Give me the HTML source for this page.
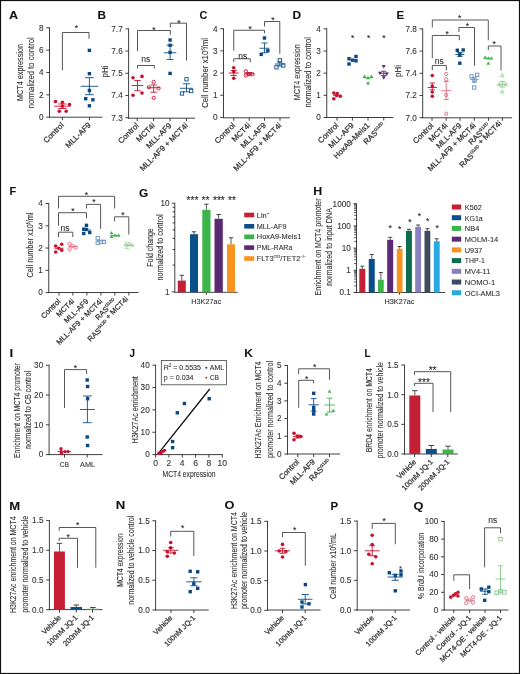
<!DOCTYPE html>
<html><head><meta charset="utf-8"><style>
html,body{margin:0;padding:0;background:#fff;width:520px;height:674px;overflow:hidden}
svg{display:block;will-change:transform}
text{font-family:"Liberation Sans",sans-serif;stroke:#333;stroke-width:0.1px}
.xl{stroke-width:0.25px}
</style></head><body>
<svg width="520" height="674" viewBox="0 0 520 674">
<rect width="520" height="674" fill="#fff"/>
<text x="9.05" y="18.8" font-size="11" fill="#111" font-weight="bold" textLength="9.11" lengthAdjust="spacingAndGlyphs">A</text>
<line x1="49.5" y1="27.35" x2="49.5" y2="117.65" stroke="#2a2a2a" stroke-width="0.9"/>
<line x1="46.3" y1="27.8" x2="49.5" y2="27.8" stroke="#2a2a2a" stroke-width="0.9"/>
<text x="43.6" y="30.65" font-size="8.2" fill="#333333" text-anchor="end">8</text>
<line x1="46.3" y1="50.15" x2="49.5" y2="50.15" stroke="#2a2a2a" stroke-width="0.9"/>
<text x="43.6" y="53" font-size="8.2" fill="#333333" text-anchor="end">6</text>
<line x1="46.3" y1="72.5" x2="49.5" y2="72.5" stroke="#2a2a2a" stroke-width="0.9"/>
<text x="43.6" y="75.35" font-size="8.2" fill="#333333" text-anchor="end">4</text>
<line x1="46.3" y1="94.85" x2="49.5" y2="94.85" stroke="#2a2a2a" stroke-width="0.9"/>
<text x="43.6" y="97.7" font-size="8.2" fill="#333333" text-anchor="end">2</text>
<line x1="46.3" y1="117.2" x2="49.5" y2="117.2" stroke="#2a2a2a" stroke-width="0.9"/>
<text x="43.6" y="120.05" font-size="8.2" fill="#333333" text-anchor="end">0</text>
<line x1="49.05" y1="117.2" x2="102.5" y2="117.2" stroke="#2a2a2a" stroke-width="0.9"/>
<line x1="62.4" y1="117.2" x2="62.4" y2="120.2" stroke="#2a2a2a" stroke-width="0.9"/>
<line x1="89.4" y1="117.2" x2="89.4" y2="120.2" stroke="#2a2a2a" stroke-width="0.9"/>
<text transform="translate(23 72.5) rotate(-90)" font-size="9.4" fill="#333333" text-anchor="middle" textLength="57" lengthAdjust="spacingAndGlyphs">MCT4 expression</text>
<text transform="translate(34 72.8) rotate(-90)" font-size="9.4" fill="#333333" text-anchor="middle" textLength="71" lengthAdjust="spacingAndGlyphs">normalized to control</text>
<circle cx="55.5" cy="101.5" r="1.8" fill="#c8102e"/>
<circle cx="62.4" cy="102.2" r="1.8" fill="#c8102e"/>
<circle cx="69.5" cy="104.5" r="1.8" fill="#c8102e"/>
<circle cx="62.4" cy="106.2" r="1.8" fill="#c8102e"/>
<circle cx="59.3" cy="111.2" r="1.8" fill="#c8102e"/>
<circle cx="66.2" cy="111.2" r="1.8" fill="#c8102e"/>
<line x1="54.2" y1="106.2" x2="70.6" y2="106.2" stroke="#c8102e" stroke-width="0.9"/>
<line x1="62.4" y1="104" x2="62.4" y2="108.5" stroke="#c8102e" stroke-width="0.9"/>
<line x1="58.3" y1="104" x2="66.5" y2="104" stroke="#c8102e" stroke-width="0.9"/>
<line x1="58.3" y1="108.5" x2="66.5" y2="108.5" stroke="#c8102e" stroke-width="0.9"/>
<rect x="87.7" y="48.7" width="3.4" height="3.4" fill="#0b4684"/>
<rect x="87.7" y="72" width="3.4" height="3.4" fill="#0b4684"/>
<rect x="87.7" y="88.8" width="3.4" height="3.4" fill="#0b4684"/>
<rect x="84" y="97" width="3.4" height="3.4" fill="#0b4684"/>
<rect x="91.2" y="98.1" width="3.4" height="3.4" fill="#0b4684"/>
<rect x="87.7" y="104.1" width="3.4" height="3.4" fill="#0b4684"/>
<line x1="80.6" y1="86.3" x2="98.2" y2="86.3" stroke="#0b4f8a" stroke-width="0.9"/>
<line x1="89.4" y1="77.7" x2="89.4" y2="94.7" stroke="#0b4f8a" stroke-width="0.9"/>
<line x1="85" y1="77.7" x2="93.8" y2="77.7" stroke="#0b4f8a" stroke-width="0.9"/>
<line x1="85" y1="94.7" x2="93.8" y2="94.7" stroke="#0b4f8a" stroke-width="0.9"/>
<path d="M62.4 70.2V32.5H89V38.8" stroke="#444" stroke-width="0.9" fill="none"/>
<text x="76.4" y="31.44" font-size="8.6" fill="#222" text-anchor="middle">*</text>
<text transform="translate(64.4 125.6) rotate(-45)" font-size="7.85" fill="#333333" text-anchor="end" class="xl">Control</text>
<text transform="translate(91.4 125.6) rotate(-45)" font-size="7.85" fill="#333333" text-anchor="end" class="xl">MLL-AF9</text>
<text x="97.48" y="19" font-size="11" fill="#111" font-weight="bold" textLength="8.5" lengthAdjust="spacingAndGlyphs">B</text>
<line x1="128.6" y1="28.45" x2="128.6" y2="118.65" stroke="#2a2a2a" stroke-width="0.9"/>
<line x1="125.4" y1="28.9" x2="128.6" y2="28.9" stroke="#2a2a2a" stroke-width="0.9"/>
<text x="122.7" y="31.75" font-size="8.2" fill="#333333" text-anchor="end">7.7</text>
<line x1="125.4" y1="51.1" x2="128.6" y2="51.1" stroke="#2a2a2a" stroke-width="0.9"/>
<text x="122.7" y="53.95" font-size="8.2" fill="#333333" text-anchor="end">7.6</text>
<line x1="125.4" y1="73.3" x2="128.6" y2="73.3" stroke="#2a2a2a" stroke-width="0.9"/>
<text x="122.7" y="76.15" font-size="8.2" fill="#333333" text-anchor="end">7.5</text>
<line x1="125.4" y1="95.5" x2="128.6" y2="95.5" stroke="#2a2a2a" stroke-width="0.9"/>
<text x="122.7" y="98.35" font-size="8.2" fill="#333333" text-anchor="end">7.4</text>
<line x1="125.4" y1="117.7" x2="128.6" y2="117.7" stroke="#2a2a2a" stroke-width="0.9"/>
<text x="122.7" y="120.55" font-size="8.2" fill="#333333" text-anchor="end">7.3</text>
<line x1="128.15" y1="118.2" x2="195" y2="118.2" stroke="#2a2a2a" stroke-width="0.9"/>
<line x1="137.2" y1="118.2" x2="137.2" y2="121.2" stroke="#2a2a2a" stroke-width="0.9"/>
<line x1="153.6" y1="118.2" x2="153.6" y2="121.2" stroke="#2a2a2a" stroke-width="0.9"/>
<line x1="170.1" y1="118.2" x2="170.1" y2="121.2" stroke="#2a2a2a" stroke-width="0.9"/>
<line x1="186.5" y1="118.2" x2="186.5" y2="121.2" stroke="#2a2a2a" stroke-width="0.9"/>
<text transform="translate(107.6 71.5) rotate(-90)" font-size="9.4" fill="#333333" text-anchor="middle" textLength="12" lengthAdjust="spacingAndGlyphs">pHi</text>
<circle cx="133" cy="77.8" r="1.8" fill="#c8102e"/>
<circle cx="142" cy="76.4" r="1.8" fill="#c8102e"/>
<circle cx="133" cy="95.2" r="1.8" fill="#c8102e"/>
<circle cx="142" cy="93" r="1.8" fill="#c8102e"/>
<line x1="131.7" y1="85.5" x2="143.3" y2="85.5" stroke="#c8102e" stroke-width="0.9"/>
<line x1="137.5" y1="80.5" x2="137.5" y2="90.7" stroke="#c8102e" stroke-width="0.9"/>
<line x1="134.3" y1="80.5" x2="140.7" y2="80.5" stroke="#c8102e" stroke-width="0.9"/>
<line x1="134.3" y1="90.7" x2="140.7" y2="90.7" stroke="#c8102e" stroke-width="0.9"/>
<circle cx="153.7" cy="82" r="1.65" fill="none" stroke="#c8102e" stroke-width="0.9"/>
<circle cx="148.9" cy="87.3" r="1.65" fill="none" stroke="#c8102e" stroke-width="0.9"/>
<circle cx="158.5" cy="88.3" r="1.65" fill="none" stroke="#c8102e" stroke-width="0.9"/>
<circle cx="153.7" cy="97.8" r="1.65" fill="none" stroke="#c8102e" stroke-width="0.9"/>
<line x1="147.1" y1="87.7" x2="160.3" y2="87.7" stroke="#c8102e" stroke-width="0.9"/>
<line x1="153.7" y1="85" x2="153.7" y2="92.2" stroke="#c8102e" stroke-width="0.9"/>
<line x1="150.5" y1="85" x2="156.9" y2="85" stroke="#c8102e" stroke-width="0.9"/>
<line x1="150.5" y1="92.2" x2="156.9" y2="92.2" stroke="#c8102e" stroke-width="0.9"/>
<rect x="168.4" y="38.3" width="3.4" height="3.4" fill="#0b4684"/>
<rect x="168.4" y="43.6" width="3.4" height="3.4" fill="#0b4684"/>
<rect x="168.4" y="50.7" width="3.4" height="3.4" fill="#0b4684"/>
<rect x="168.4" y="71.7" width="3.4" height="3.4" fill="#0b4684"/>
<line x1="163.9" y1="52.75" x2="176.3" y2="52.75" stroke="#0b4f8a" stroke-width="0.9"/>
<line x1="170.1" y1="45.25" x2="170.1" y2="59.5" stroke="#0b4f8a" stroke-width="0.9"/>
<line x1="166.7" y1="45.25" x2="173.5" y2="45.25" stroke="#0b4f8a" stroke-width="0.9"/>
<line x1="166.7" y1="59.5" x2="173.5" y2="59.5" stroke="#0b4f8a" stroke-width="0.9"/>
<rect x="184.85" y="77.65" width="3.3" height="3.3" fill="none" stroke="#0b4f8a" stroke-width="0.9"/>
<rect x="180.35" y="91.85" width="3.3" height="3.3" fill="none" stroke="#0b4f8a" stroke-width="0.9"/>
<rect x="189.55" y="89.35" width="3.3" height="3.3" fill="none" stroke="#0b4f8a" stroke-width="0.9"/>
<line x1="180" y1="88.3" x2="193" y2="88.3" stroke="#0b4f8a" stroke-width="0.9"/>
<line x1="186.5" y1="83.8" x2="186.5" y2="91.8" stroke="#0b4f8a" stroke-width="0.9"/>
<line x1="182.9" y1="83.8" x2="190.1" y2="83.8" stroke="#0b4f8a" stroke-width="0.9"/>
<line x1="182.9" y1="91.8" x2="190.1" y2="91.8" stroke="#0b4f8a" stroke-width="0.9"/>
<path d="M137.5 68.5V65.5H154.3V68.5" stroke="#444" stroke-width="0.9" fill="none"/>
<text x="145.8" y="62.3" font-size="8.5" fill="#333" text-anchor="middle">ns</text>
<path d="M137.5 51.2V30.5H170.3V34.8" stroke="#444" stroke-width="0.9" fill="none"/>
<text x="153.9" y="32.84" font-size="8.6" fill="#222" text-anchor="middle">*</text>
<path d="M170.3 27.5V23.2H186.5V60.7" stroke="#444" stroke-width="0.9" fill="none"/>
<text x="179" y="25.64" font-size="8.6" fill="#222" text-anchor="middle">*</text>
<text transform="translate(139.2 126.1) rotate(-45)" font-size="7.85" fill="#333333" text-anchor="end" class="xl">Control</text>
<text transform="translate(155.6 126.1) rotate(-45)" font-size="7.85" fill="#333333" text-anchor="end" class="xl">MCT4i</text>
<text transform="translate(172.1 126.1) rotate(-45)" font-size="7.85" fill="#333333" text-anchor="end" class="xl">MLL-AF9</text>
<text transform="translate(188.5 126.1) rotate(-45)" font-size="7.85" fill="#333333" text-anchor="end" class="xl">MLL-AF9 + MCT4i</text>
<text x="199.54" y="19" font-size="11" fill="#111" font-weight="bold" textLength="7.83" lengthAdjust="spacingAndGlyphs">C</text>
<line x1="223.5" y1="28.27" x2="223.5" y2="117.85" stroke="#2a2a2a" stroke-width="0.9"/>
<line x1="220.3" y1="28.72" x2="223.5" y2="28.72" stroke="#2a2a2a" stroke-width="0.9"/>
<text x="217.6" y="31.57" font-size="8.2" fill="#333333" text-anchor="end">4</text>
<line x1="220.3" y1="50.89" x2="223.5" y2="50.89" stroke="#2a2a2a" stroke-width="0.9"/>
<text x="217.6" y="53.74" font-size="8.2" fill="#333333" text-anchor="end">3</text>
<line x1="220.3" y1="73.06" x2="223.5" y2="73.06" stroke="#2a2a2a" stroke-width="0.9"/>
<text x="217.6" y="75.91" font-size="8.2" fill="#333333" text-anchor="end">2</text>
<line x1="220.3" y1="95.23" x2="223.5" y2="95.23" stroke="#2a2a2a" stroke-width="0.9"/>
<text x="217.6" y="98.08" font-size="8.2" fill="#333333" text-anchor="end">1</text>
<line x1="220.3" y1="117.4" x2="223.5" y2="117.4" stroke="#2a2a2a" stroke-width="0.9"/>
<text x="217.6" y="120.25" font-size="8.2" fill="#333333" text-anchor="end">0</text>
<line x1="223.05" y1="117.8" x2="290" y2="117.8" stroke="#2a2a2a" stroke-width="0.9"/>
<line x1="233.75" y1="117.8" x2="233.75" y2="120.8" stroke="#2a2a2a" stroke-width="0.9"/>
<line x1="249.2" y1="117.8" x2="249.2" y2="120.8" stroke="#2a2a2a" stroke-width="0.9"/>
<line x1="264.5" y1="117.8" x2="264.5" y2="120.8" stroke="#2a2a2a" stroke-width="0.9"/>
<line x1="280" y1="117.8" x2="280" y2="120.8" stroke="#2a2a2a" stroke-width="0.9"/>
<text transform="translate(207.5 73) rotate(-90)" font-size="9.4" fill="#333333" text-anchor="middle" textLength="70" lengthAdjust="spacingAndGlyphs">Cell number x10<tspan font-size="4.5" dy="-3">6</tspan><tspan dy="3">/ml</tspan></text>
<circle cx="233.75" cy="67.8" r="1.8" fill="#c8102e"/>
<circle cx="233.75" cy="71.8" r="1.8" fill="#c8102e"/>
<circle cx="233.75" cy="78.3" r="1.8" fill="#c8102e"/>
<line x1="228.75" y1="73" x2="238.75" y2="73" stroke="#c8102e" stroke-width="0.9"/>
<line x1="233.75" y1="70.5" x2="233.75" y2="75.5" stroke="#c8102e" stroke-width="0.9"/>
<line x1="230.75" y1="70.5" x2="236.75" y2="70.5" stroke="#c8102e" stroke-width="0.9"/>
<line x1="230.75" y1="75.5" x2="236.75" y2="75.5" stroke="#c8102e" stroke-width="0.9"/>
<circle cx="245.8" cy="71.2" r="1.65" fill="none" stroke="#c8102e" stroke-width="0.9"/>
<circle cx="245.8" cy="75.5" r="1.65" fill="none" stroke="#c8102e" stroke-width="0.9"/>
<circle cx="249.2" cy="74.2" r="1.65" fill="none" stroke="#c8102e" stroke-width="0.9"/>
<circle cx="252.5" cy="74.2" r="1.65" fill="none" stroke="#c8102e" stroke-width="0.9"/>
<line x1="244.2" y1="73.75" x2="254.2" y2="73.75" stroke="#c8102e" stroke-width="0.9"/>
<line x1="249.2" y1="72.5" x2="249.2" y2="75" stroke="#c8102e" stroke-width="0.9"/>
<line x1="246.4" y1="72.5" x2="252" y2="72.5" stroke="#c8102e" stroke-width="0.9"/>
<line x1="246.4" y1="75" x2="252" y2="75" stroke="#c8102e" stroke-width="0.9"/>
<rect x="262.8" y="36.3" width="3.4" height="3.4" fill="#0b4684"/>
<rect x="259.5" y="52.7" width="3.4" height="3.4" fill="#0b4684"/>
<rect x="266.1" y="49.1" width="3.4" height="3.4" fill="#0b4684"/>
<line x1="259.5" y1="48.25" x2="269.5" y2="48.25" stroke="#0b4f8a" stroke-width="0.9"/>
<line x1="264.5" y1="43" x2="264.5" y2="52.75" stroke="#0b4f8a" stroke-width="0.9"/>
<line x1="261.5" y1="43" x2="267.5" y2="43" stroke="#0b4f8a" stroke-width="0.9"/>
<line x1="261.5" y1="52.75" x2="267.5" y2="52.75" stroke="#0b4f8a" stroke-width="0.9"/>
<rect x="278.15" y="58.65" width="3.3" height="3.3" fill="none" stroke="#0b4f8a" stroke-width="0.9"/>
<rect x="274.85" y="65.65" width="3.3" height="3.3" fill="none" stroke="#0b4f8a" stroke-width="0.9"/>
<rect x="281.65" y="63.85" width="3.3" height="3.3" fill="none" stroke="#0b4f8a" stroke-width="0.9"/>
<line x1="275" y1="64" x2="284.6" y2="64" stroke="#0b4f8a" stroke-width="0.9"/>
<line x1="279.8" y1="62" x2="279.8" y2="66" stroke="#0b4f8a" stroke-width="0.9"/>
<line x1="277" y1="62" x2="282.6" y2="62" stroke="#0b4f8a" stroke-width="0.9"/>
<line x1="277" y1="66" x2="282.6" y2="66" stroke="#0b4f8a" stroke-width="0.9"/>
<path d="M233.75 62.2V58.75H250.3V62.2" stroke="#444" stroke-width="0.9" fill="none"/>
<text x="242.8" y="58.6" font-size="8.5" fill="#333333" text-anchor="middle">ns</text>
<path d="M233.75 50.8V30.25H264.5V33.25" stroke="#444" stroke-width="0.9" fill="none"/>
<text x="250.2" y="31.64" font-size="8.6" fill="#222" text-anchor="middle">*</text>
<path d="M264.5 26.5V21.5H279.8V53.8" stroke="#444" stroke-width="0.9" fill="none"/>
<text x="272.9" y="22.64" font-size="8.6" fill="#222" text-anchor="middle">*</text>
<text transform="translate(235.75 126) rotate(-45)" font-size="7.85" fill="#333333" text-anchor="end" class="xl">Control</text>
<text transform="translate(251.2 126) rotate(-45)" font-size="7.85" fill="#333333" text-anchor="end" class="xl">MCT4i</text>
<text transform="translate(266.5 126) rotate(-45)" font-size="7.85" fill="#333333" text-anchor="end" class="xl">MLL-AF9</text>
<text transform="translate(282 126) rotate(-45)" font-size="7.85" fill="#333333" text-anchor="end" class="xl">MLL-AF9 + MCT4i</text>
<text x="292.59" y="19" font-size="11" fill="#111" font-weight="bold" textLength="8.61" lengthAdjust="spacingAndGlyphs">D</text>
<line x1="326.75" y1="28.37" x2="326.75" y2="117.95" stroke="#2a2a2a" stroke-width="0.9"/>
<line x1="323.55" y1="28.82" x2="326.75" y2="28.82" stroke="#2a2a2a" stroke-width="0.9"/>
<text x="320.85" y="31.67" font-size="8.2" fill="#333333" text-anchor="end">4</text>
<line x1="323.55" y1="50.99" x2="326.75" y2="50.99" stroke="#2a2a2a" stroke-width="0.9"/>
<text x="320.85" y="53.84" font-size="8.2" fill="#333333" text-anchor="end">3</text>
<line x1="323.55" y1="73.16" x2="326.75" y2="73.16" stroke="#2a2a2a" stroke-width="0.9"/>
<text x="320.85" y="76.01" font-size="8.2" fill="#333333" text-anchor="end">2</text>
<line x1="323.55" y1="95.33" x2="326.75" y2="95.33" stroke="#2a2a2a" stroke-width="0.9"/>
<text x="320.85" y="98.18" font-size="8.2" fill="#333333" text-anchor="end">1</text>
<line x1="323.55" y1="117.5" x2="326.75" y2="117.5" stroke="#2a2a2a" stroke-width="0.9"/>
<text x="320.85" y="120.35" font-size="8.2" fill="#333333" text-anchor="end">0</text>
<line x1="326.3" y1="117.5" x2="393.5" y2="117.5" stroke="#2a2a2a" stroke-width="0.9"/>
<line x1="337" y1="117.5" x2="337" y2="120.5" stroke="#2a2a2a" stroke-width="0.9"/>
<line x1="352.4" y1="117.5" x2="352.4" y2="120.5" stroke="#2a2a2a" stroke-width="0.9"/>
<line x1="368" y1="117.5" x2="368" y2="120.5" stroke="#2a2a2a" stroke-width="0.9"/>
<line x1="383.75" y1="117.5" x2="383.75" y2="120.5" stroke="#2a2a2a" stroke-width="0.9"/>
<text transform="translate(299.5 72.2) rotate(-90)" font-size="9.4" fill="#333333" text-anchor="middle" textLength="56" lengthAdjust="spacingAndGlyphs">MCT4 expression</text>
<text transform="translate(311 72.3) rotate(-90)" font-size="9.4" fill="#333333" text-anchor="middle" textLength="70.5" lengthAdjust="spacingAndGlyphs">normalized to control</text>
<circle cx="333.8" cy="93" r="1.8" fill="#c8102e"/>
<circle cx="337.25" cy="93.5" r="1.8" fill="#c8102e"/>
<circle cx="333.8" cy="98.75" r="1.8" fill="#c8102e"/>
<circle cx="340.25" cy="96.2" r="1.8" fill="#c8102e"/>
<circle cx="336.5" cy="95.5" r="1.8" fill="#c8102e"/>
<line x1="333" y1="95.3" x2="341.5" y2="95.3" stroke="#c8102e" stroke-width="0.9"/>
<rect x="347.3" y="57" width="3.4" height="3.4" fill="#0b4684"/>
<rect x="347.3" y="62.3" width="3.4" height="3.4" fill="#0b4684"/>
<rect x="351" y="58.5" width="3.4" height="3.4" fill="#0b4684"/>
<rect x="354.3" y="54.8" width="3.4" height="3.4" fill="#0b4684"/>
<rect x="354.3" y="59.1" width="3.4" height="3.4" fill="#0b4684"/>
<line x1="348.5" y1="59.8" x2="357" y2="59.8" stroke="#0b4f8a" stroke-width="0.9"/>
<polygon points="364.5,74.61 366.5,78.09 362.5,78.09" fill="#3bb54a"/>
<polygon points="368,75.66 370,79.14 366,79.14" fill="#3bb54a"/>
<polygon points="371.5,74.61 373.5,78.09 369.5,78.09" fill="#3bb54a"/>
<polygon points="368,80.91 370,84.39 366,84.39" fill="#3bb54a"/>
<line x1="364" y1="77.8" x2="372" y2="77.8" stroke="#3bb54a" stroke-width="0.9"/>
<polygon points="383.75,68.59 385.75,65.11 381.75,65.11" fill="#5c2a74"/>
<polygon points="380,75.34 382,71.86 378,71.86" fill="#5c2a74"/>
<polygon points="386.75,76.09 388.75,72.61 384.75,72.61" fill="#5c2a74"/>
<polygon points="383.75,79.84 385.75,76.36 381.75,76.36" fill="#5c2a74"/>
<line x1="379.25" y1="73.25" x2="388.25" y2="73.25" stroke="#5c2a74" stroke-width="0.9"/>
<line x1="383.75" y1="71.2" x2="383.75" y2="75.5" stroke="#5c2a74" stroke-width="0.9"/>
<line x1="381.15" y1="71.2" x2="386.35" y2="71.2" stroke="#5c2a74" stroke-width="0.9"/>
<line x1="381.15" y1="75.5" x2="386.35" y2="75.5" stroke="#5c2a74" stroke-width="0.9"/>
<text x="352.6" y="40.64" font-size="8.6" fill="#222" text-anchor="middle">*</text>
<text x="368.7" y="40.64" font-size="8.6" fill="#222" text-anchor="middle">*</text>
<text x="383.9" y="40.64" font-size="8.6" fill="#222" text-anchor="middle">*</text>
<text transform="translate(339 125.9) rotate(-45)" font-size="7.85" fill="#333333" text-anchor="end" class="xl">Control</text>
<text transform="translate(354.4 125.9) rotate(-45)" font-size="7.85" fill="#333333" text-anchor="end" class="xl">MLL-AF9</text>
<text transform="translate(370 125.9) rotate(-45)" font-size="7.85" fill="#333333" text-anchor="end" class="xl">HoxA9-Meis1</text>
<text transform="translate(385.75 125.9) rotate(-45)" font-size="7.85" fill="#333333" text-anchor="end" class="xl">RAS<tspan font-size="4.2" dy="-3.2">G12D</tspan></text>
<text x="396.46" y="18.8" font-size="11" fill="#111" font-weight="bold" textLength="7.7" lengthAdjust="spacingAndGlyphs">E</text>
<line x1="422.7" y1="28.45" x2="422.7" y2="118.15" stroke="#2a2a2a" stroke-width="0.9"/>
<line x1="419.5" y1="28.9" x2="422.7" y2="28.9" stroke="#2a2a2a" stroke-width="0.9"/>
<text x="416.8" y="31.75" font-size="8.2" fill="#333333" text-anchor="end">7.8</text>
<line x1="419.5" y1="51.1" x2="422.7" y2="51.1" stroke="#2a2a2a" stroke-width="0.9"/>
<text x="416.8" y="53.95" font-size="8.2" fill="#333333" text-anchor="end">7.6</text>
<line x1="419.5" y1="73.3" x2="422.7" y2="73.3" stroke="#2a2a2a" stroke-width="0.9"/>
<text x="416.8" y="76.15" font-size="8.2" fill="#333333" text-anchor="end">7.4</text>
<line x1="419.5" y1="95.5" x2="422.7" y2="95.5" stroke="#2a2a2a" stroke-width="0.9"/>
<text x="416.8" y="98.35" font-size="8.2" fill="#333333" text-anchor="end">7.2</text>
<line x1="419.5" y1="117.7" x2="422.7" y2="117.7" stroke="#2a2a2a" stroke-width="0.9"/>
<text x="416.8" y="120.55" font-size="8.2" fill="#333333" text-anchor="end">7.0</text>
<line x1="422.25" y1="117.8" x2="512" y2="117.8" stroke="#2a2a2a" stroke-width="0.9"/>
<line x1="432" y1="117.8" x2="432" y2="120.8" stroke="#2a2a2a" stroke-width="0.9"/>
<line x1="446.2" y1="117.8" x2="446.2" y2="120.8" stroke="#2a2a2a" stroke-width="0.9"/>
<line x1="460" y1="117.8" x2="460" y2="120.8" stroke="#2a2a2a" stroke-width="0.9"/>
<line x1="474.3" y1="117.8" x2="474.3" y2="120.8" stroke="#2a2a2a" stroke-width="0.9"/>
<line x1="488.6" y1="117.8" x2="488.6" y2="120.8" stroke="#2a2a2a" stroke-width="0.9"/>
<line x1="502.4" y1="117.8" x2="502.4" y2="120.8" stroke="#2a2a2a" stroke-width="0.9"/>
<text transform="translate(401.2 71) rotate(-90)" font-size="9.4" fill="#333333" text-anchor="middle" textLength="12" lengthAdjust="spacingAndGlyphs">pHi</text>
<circle cx="432.3" cy="75.5" r="1.8" fill="#c8102e"/>
<circle cx="432.3" cy="86" r="1.8" fill="#c8102e"/>
<circle cx="432.3" cy="92" r="1.8" fill="#c8102e"/>
<circle cx="432.3" cy="96.2" r="1.8" fill="#c8102e"/>
<line x1="427.7" y1="87.5" x2="436.9" y2="87.5" stroke="#c8102e" stroke-width="0.9"/>
<line x1="432.3" y1="83" x2="432.3" y2="89.8" stroke="#c8102e" stroke-width="0.9"/>
<line x1="429.7" y1="83" x2="434.9" y2="83" stroke="#c8102e" stroke-width="0.9"/>
<line x1="429.7" y1="89.8" x2="434.9" y2="89.8" stroke="#c8102e" stroke-width="0.9"/>
<circle cx="446.2" cy="74" r="1.65" fill="none" stroke="#e2697d" stroke-width="0.9"/>
<circle cx="446.2" cy="79.3" r="1.65" fill="none" stroke="#e2697d" stroke-width="0.9"/>
<circle cx="446.2" cy="95" r="1.65" fill="none" stroke="#e2697d" stroke-width="0.9"/>
<circle cx="446.2" cy="113.7" r="1.65" fill="none" stroke="#e2697d" stroke-width="0.9"/>
<line x1="441.2" y1="90.7" x2="451.2" y2="90.7" stroke="#e2697d" stroke-width="0.9"/>
<line x1="446.2" y1="81.5" x2="446.2" y2="99.5" stroke="#e2697d" stroke-width="0.9"/>
<line x1="443.6" y1="81.5" x2="448.8" y2="81.5" stroke="#e2697d" stroke-width="0.9"/>
<line x1="443.6" y1="99.5" x2="448.8" y2="99.5" stroke="#e2697d" stroke-width="0.9"/>
<rect x="455.6" y="48.6" width="3.4" height="3.4" fill="#0b4684"/>
<rect x="461.5" y="48.3" width="3.4" height="3.4" fill="#0b4684"/>
<rect x="458.1" y="52.8" width="3.4" height="3.4" fill="#0b4684"/>
<rect x="458.1" y="61.5" width="3.4" height="3.4" fill="#0b4684"/>
<line x1="455.3" y1="54.5" x2="464.3" y2="54.5" stroke="#0b4f8a" stroke-width="0.9"/>
<line x1="459.8" y1="52.5" x2="459.8" y2="56.5" stroke="#0b4f8a" stroke-width="0.9"/>
<line x1="457.2" y1="52.5" x2="462.4" y2="52.5" stroke="#0b4f8a" stroke-width="0.9"/>
<line x1="457.2" y1="56.5" x2="462.4" y2="56.5" stroke="#0b4f8a" stroke-width="0.9"/>
<rect x="469.85" y="74.65" width="3.3" height="3.3" fill="none" stroke="#6893c4" stroke-width="0.9"/>
<rect x="475.55" y="73.15" width="3.3" height="3.3" fill="none" stroke="#6893c4" stroke-width="0.9"/>
<rect x="472.85" y="79.05" width="3.3" height="3.3" fill="none" stroke="#6893c4" stroke-width="0.9"/>
<rect x="472.55" y="85.85" width="3.3" height="3.3" fill="none" stroke="#6893c4" stroke-width="0.9"/>
<line x1="469.8" y1="79.3" x2="478.8" y2="79.3" stroke="#6893c4" stroke-width="0.9"/>
<line x1="474.3" y1="77.3" x2="474.3" y2="81.3" stroke="#6893c4" stroke-width="0.9"/>
<line x1="471.7" y1="77.3" x2="476.9" y2="77.3" stroke="#6893c4" stroke-width="0.9"/>
<line x1="471.7" y1="81.3" x2="476.9" y2="81.3" stroke="#6893c4" stroke-width="0.9"/>
<polygon points="485,55.52 486.9,58.82 483.1,58.82" fill="#3bb54a"/>
<polygon points="488.3,56.32 490.2,59.62 486.4,59.62" fill="#3bb54a"/>
<polygon points="491.5,56.32 493.4,59.62 489.6,59.62" fill="#3bb54a"/>
<polygon points="488.3,61.52 490.2,64.82 486.4,64.82" fill="#3bb54a"/>
<line x1="484.5" y1="58.6" x2="492" y2="58.6" stroke="#3bb54a" stroke-width="0.9"/>
<polygon points="502.25,73.62 504.05,76.75 500.45,76.75" fill="none" stroke="#86c98a" stroke-width="0.8"/>
<polygon points="499.25,82.62 501.05,85.75 497.45,85.75" fill="none" stroke="#86c98a" stroke-width="0.8"/>
<polygon points="505.7,82.62 507.5,85.75 503.9,85.75" fill="none" stroke="#86c98a" stroke-width="0.8"/>
<polygon points="502.25,89.82 504.05,92.95 500.45,92.95" fill="none" stroke="#86c98a" stroke-width="0.8"/>
<line x1="497.7" y1="84.2" x2="506.9" y2="84.2" stroke="#86c98a" stroke-width="0.9"/>
<line x1="502.3" y1="81.5" x2="502.3" y2="87" stroke="#86c98a" stroke-width="0.9"/>
<line x1="499.7" y1="81.5" x2="504.9" y2="81.5" stroke="#86c98a" stroke-width="0.9"/>
<line x1="499.7" y1="87" x2="504.9" y2="87" stroke="#86c98a" stroke-width="0.9"/>
<path d="M432.3 70.25V65.45H446.25V70.25" stroke="#444" stroke-width="0.9" fill="none"/>
<text x="439.2" y="64" font-size="8.5" fill="#333333" text-anchor="middle">ns</text>
<path d="M432.3 58.25V35.45H459.3V40.25" stroke="#444" stroke-width="0.9" fill="none"/>
<text x="447.1" y="37.24" font-size="8.6" fill="#222" text-anchor="middle">*</text>
<path d="M432.3 27.5V20H488.3V40.25" stroke="#444" stroke-width="0.9" fill="none"/>
<text x="459.6" y="20.64" font-size="8.6" fill="#222" text-anchor="middle">*</text>
<path d="M458.9 32V27.5H474.5V65.75" stroke="#444" stroke-width="0.9" fill="none"/>
<text x="467.4" y="29.14" font-size="8.6" fill="#222" text-anchor="middle">*</text>
<path d="M488.3 50V46H501V70.5" stroke="#444" stroke-width="0.9" fill="none"/>
<text x="494.1" y="47.04" font-size="8.6" fill="#222" text-anchor="middle">*</text>
<text transform="translate(434 126.2) rotate(-45)" font-size="7.85" fill="#333333" text-anchor="end" class="xl">Control</text>
<text transform="translate(448.2 126.2) rotate(-45)" font-size="7.85" fill="#333333" text-anchor="end" class="xl">MCT4i</text>
<text transform="translate(462 126.2) rotate(-45)" font-size="7.85" fill="#333333" text-anchor="end" class="xl">MLL-AF9</text>
<text transform="translate(476.3 126.2) rotate(-45)" font-size="7.85" fill="#333333" text-anchor="end" class="xl">MLL-AF9 + MCT4i</text>
<text transform="translate(490.6 126.2) rotate(-45)" font-size="7.85" fill="#333333" text-anchor="end" class="xl">RAS<tspan font-size="4.2" dy="-3.2">G12D</tspan></text>
<text transform="translate(504.4 126.2) rotate(-45)" font-size="7.85" fill="#333333" text-anchor="end" class="xl">RAS<tspan font-size="4.2" dy="-3.2">G12D</tspan> + MCT4i</text>
<text x="9.43" y="195.3" font-size="11" fill="#111" font-weight="bold" textLength="6.77" lengthAdjust="spacingAndGlyphs">F</text>
<line x1="48.75" y1="203.07" x2="48.75" y2="293.05" stroke="#2a2a2a" stroke-width="0.9"/>
<line x1="45.55" y1="203.52" x2="48.75" y2="203.52" stroke="#2a2a2a" stroke-width="0.9"/>
<text x="42.85" y="206.37" font-size="8.2" fill="#333333" text-anchor="end">4</text>
<line x1="45.55" y1="225.79" x2="48.75" y2="225.79" stroke="#2a2a2a" stroke-width="0.9"/>
<text x="42.85" y="228.64" font-size="8.2" fill="#333333" text-anchor="end">3</text>
<line x1="45.55" y1="248.06" x2="48.75" y2="248.06" stroke="#2a2a2a" stroke-width="0.9"/>
<text x="42.85" y="250.91" font-size="8.2" fill="#333333" text-anchor="end">2</text>
<line x1="45.55" y1="270.33" x2="48.75" y2="270.33" stroke="#2a2a2a" stroke-width="0.9"/>
<text x="42.85" y="273.18" font-size="8.2" fill="#333333" text-anchor="end">1</text>
<line x1="45.55" y1="292.6" x2="48.75" y2="292.6" stroke="#2a2a2a" stroke-width="0.9"/>
<text x="42.85" y="295.45" font-size="8.2" fill="#333333" text-anchor="end">0</text>
<line x1="48.3" y1="292.5" x2="138.5" y2="292.5" stroke="#2a2a2a" stroke-width="0.9"/>
<line x1="59" y1="292.5" x2="59" y2="295.5" stroke="#2a2a2a" stroke-width="0.9"/>
<line x1="72.8" y1="292.5" x2="72.8" y2="295.5" stroke="#2a2a2a" stroke-width="0.9"/>
<line x1="86.9" y1="292.5" x2="86.9" y2="295.5" stroke="#2a2a2a" stroke-width="0.9"/>
<line x1="100.9" y1="292.5" x2="100.9" y2="295.5" stroke="#2a2a2a" stroke-width="0.9"/>
<line x1="114.8" y1="292.5" x2="114.8" y2="295.5" stroke="#2a2a2a" stroke-width="0.9"/>
<line x1="128.9" y1="292.5" x2="128.9" y2="295.5" stroke="#2a2a2a" stroke-width="0.9"/>
<text transform="translate(32.8 245) rotate(-90)" font-size="9.4" fill="#333333" text-anchor="middle" textLength="65" lengthAdjust="spacingAndGlyphs">Cell number x10<tspan font-size="4.5" dy="-3">6</tspan><tspan dy="3">/ml</tspan></text>
<circle cx="55.7" cy="246" r="1.8" fill="#c8102e"/>
<circle cx="61.7" cy="244.2" r="1.8" fill="#c8102e"/>
<circle cx="55.7" cy="252" r="1.8" fill="#c8102e"/>
<circle cx="61.7" cy="250.2" r="1.8" fill="#c8102e"/>
<circle cx="58.7" cy="248.2" r="1.8" fill="#c8102e"/>
<line x1="54.5" y1="248.25" x2="63.5" y2="248.25" stroke="#c8102e" stroke-width="0.9"/>
<circle cx="69.5" cy="243.75" r="1.65" fill="none" stroke="#e2697d" stroke-width="0.9"/>
<circle cx="69.5" cy="249.3" r="1.65" fill="none" stroke="#e2697d" stroke-width="0.9"/>
<circle cx="75.8" cy="247.5" r="1.65" fill="none" stroke="#e2697d" stroke-width="0.9"/>
<circle cx="72.5" cy="246" r="1.65" fill="none" stroke="#e2697d" stroke-width="0.9"/>
<line x1="68.5" y1="246.5" x2="77" y2="246.5" stroke="#e2697d" stroke-width="0.9"/>
<rect x="84.8" y="223.6" width="3.4" height="3.4" fill="#0b4684"/>
<rect x="82.05" y="227.5" width="3.4" height="3.4" fill="#0b4684"/>
<rect x="88.05" y="230.8" width="3.4" height="3.4" fill="#0b4684"/>
<rect x="82.05" y="231.8" width="3.4" height="3.4" fill="#0b4684"/>
<rect x="84.8" y="227.8" width="3.4" height="3.4" fill="#0b4684"/>
<line x1="82.5" y1="230" x2="91" y2="230" stroke="#0b4f8a" stroke-width="0.9"/>
<rect x="96.05" y="236.55" width="3.3" height="3.3" fill="none" stroke="#6893c4" stroke-width="0.9"/>
<rect x="96.05" y="241.35" width="3.3" height="3.3" fill="none" stroke="#6893c4" stroke-width="0.9"/>
<rect x="102.35" y="240.15" width="3.3" height="3.3" fill="none" stroke="#6893c4" stroke-width="0.9"/>
<rect x="99.15" y="240.15" width="3.3" height="3.3" fill="none" stroke="#6893c4" stroke-width="0.9"/>
<line x1="96.5" y1="240.8" x2="105.5" y2="240.8" stroke="#6893c4" stroke-width="0.9"/>
<polygon points="111.5,231.02 113.4,234.32 109.6,234.32" fill="#3bb54a"/>
<polygon points="111.5,234.82 113.4,238.12 109.6,238.12" fill="#3bb54a"/>
<polygon points="115,233.52 116.9,236.82 113.1,236.82" fill="#3bb54a"/>
<polygon points="118.5,233.52 120.4,236.82 116.6,236.82" fill="#3bb54a"/>
<line x1="110.5" y1="235.5" x2="119.5" y2="235.5" stroke="#3bb54a" stroke-width="0.9"/>
<polygon points="126,241.73 127.7,244.68 124.3,244.68" fill="none" stroke="#86c98a" stroke-width="0.7"/>
<polygon points="129,241.73 130.7,244.68 127.3,244.68" fill="none" stroke="#86c98a" stroke-width="0.7"/>
<polygon points="132,243.23 133.7,246.18 130.3,246.18" fill="none" stroke="#86c98a" stroke-width="0.7"/>
<polygon points="127,245.73 128.7,248.68 125.3,248.68" fill="none" stroke="#86c98a" stroke-width="0.7"/>
<line x1="124" y1="245.5" x2="134" y2="245.5" stroke="#86c98a" stroke-width="0.8"/>
<path d="M58.5 237V232.2H72.8V237" stroke="#444" stroke-width="0.9" fill="none"/>
<text x="65" y="230.6" font-size="8.5" fill="#333333" text-anchor="middle">ns</text>
<path d="M58.5 225.75V212.7H86.5V218.25" stroke="#444" stroke-width="0.9" fill="none"/>
<text x="72.9" y="214.09" font-size="8.6" fill="#222" text-anchor="middle">*</text>
<path d="M86.5 208.5V204.4H100.6V228.8" stroke="#444" stroke-width="0.9" fill="none"/>
<text x="93.9" y="205.34" font-size="8.6" fill="#222" text-anchor="middle">*</text>
<path d="M58.5 208.5V196.3H114.6V208.5" stroke="#444" stroke-width="0.9" fill="none"/>
<text x="86.4" y="198.04" font-size="8.6" fill="#222" text-anchor="middle">*</text>
<path d="M114.6 221.4V216.8H128.8V234.5" stroke="#444" stroke-width="0.9" fill="none"/>
<text x="122.9" y="217.84" font-size="8.6" fill="#222" text-anchor="middle">*</text>
<text transform="translate(61 301.8) rotate(-45)" font-size="7.5" fill="#333333" text-anchor="end" class="xl">Control</text>
<text transform="translate(74.8 301.8) rotate(-45)" font-size="7.5" fill="#333333" text-anchor="end" class="xl">MCT4i</text>
<text transform="translate(88.9 301.8) rotate(-45)" font-size="7.5" fill="#333333" text-anchor="end" class="xl">MLL-AF9</text>
<text transform="translate(102.9 301.8) rotate(-45)" font-size="7.5" fill="#333333" text-anchor="end" class="xl">MLL-AF9 + MCT4i</text>
<text transform="translate(116.8 301.8) rotate(-45)" font-size="7.5" fill="#333333" text-anchor="end" class="xl">RAS<tspan font-size="4.2" dy="-3.2">G12D</tspan></text>
<text transform="translate(130.9 301.8) rotate(-45)" font-size="7.5" fill="#333333" text-anchor="end" class="xl">RAS<tspan font-size="4.2" dy="-3.2">G12D</tspan> + MCT4i</text>
<text x="138.96" y="196.8" font-size="11" fill="#111" font-weight="bold" textLength="9.27" lengthAdjust="spacingAndGlyphs">G</text>
<line x1="174.8" y1="202.75" x2="174.8" y2="292.25" stroke="#2a2a2a" stroke-width="0.9"/>
<line x1="171.8" y1="291.8" x2="174.8" y2="291.8" stroke="#2a2a2a" stroke-width="0.9"/>
<line x1="172.6" y1="265.13" x2="174.8" y2="265.13" stroke="#2a2a2a" stroke-width="0.9"/>
<line x1="172.6" y1="249.53" x2="174.8" y2="249.53" stroke="#2a2a2a" stroke-width="0.9"/>
<line x1="172.6" y1="238.46" x2="174.8" y2="238.46" stroke="#2a2a2a" stroke-width="0.9"/>
<line x1="172.6" y1="229.87" x2="174.8" y2="229.87" stroke="#2a2a2a" stroke-width="0.9"/>
<line x1="172.6" y1="222.86" x2="174.8" y2="222.86" stroke="#2a2a2a" stroke-width="0.9"/>
<line x1="172.6" y1="216.92" x2="174.8" y2="216.92" stroke="#2a2a2a" stroke-width="0.9"/>
<line x1="172.6" y1="211.79" x2="174.8" y2="211.79" stroke="#2a2a2a" stroke-width="0.9"/>
<line x1="172.6" y1="207.25" x2="174.8" y2="207.25" stroke="#2a2a2a" stroke-width="0.9"/>
<line x1="171.8" y1="203.2" x2="174.8" y2="203.2" stroke="#2a2a2a" stroke-width="0.9"/>
<text x="169.6" y="206.05" font-size="8.2" fill="#333333" text-anchor="end">10</text>
<text x="169.6" y="294.65" font-size="8.2" fill="#333333" text-anchor="end">1</text>
<line x1="174.35" y1="292.3" x2="237.7" y2="292.3" stroke="#2a2a2a" stroke-width="0.9"/>
<line x1="206.3" y1="292.3" x2="206.3" y2="294.8" stroke="#2a2a2a" stroke-width="0.9"/>
<text transform="translate(152.5 247.5) rotate(-90)" font-size="9.4" fill="#333333" text-anchor="middle" textLength="38.5" lengthAdjust="spacingAndGlyphs">Fold change</text>
<text transform="translate(163.2 247.5) rotate(-90)" font-size="9.4" fill="#333333" text-anchor="middle" textLength="66" lengthAdjust="spacingAndGlyphs">normalized to control</text>
<rect x="177.8" y="280.6" width="8" height="11.7" fill="#c41f34"/>
<line x1="181.8" y1="275.3" x2="181.8" y2="280.6" stroke="#333" stroke-width="0.8"/>
<line x1="179.6" y1="275.3" x2="184" y2="275.3" stroke="#333" stroke-width="0.9"/>
<rect x="190" y="234.2" width="8" height="58.1" fill="#0b4f8a"/>
<line x1="194" y1="231.8" x2="194" y2="234.2" stroke="#333" stroke-width="0.8"/>
<line x1="191.8" y1="231.8" x2="196.2" y2="231.8" stroke="#333" stroke-width="0.9"/>
<rect x="202.3" y="209.8" width="8.2" height="82.5" fill="#3bb54a"/>
<line x1="206.4" y1="204.2" x2="206.4" y2="209.8" stroke="#333" stroke-width="0.8"/>
<line x1="204.2" y1="204.2" x2="208.6" y2="204.2" stroke="#333" stroke-width="0.9"/>
<rect x="214.5" y="218.8" width="8.3" height="73.5" fill="#5c2a74"/>
<line x1="218.65" y1="214.5" x2="218.65" y2="218.8" stroke="#333" stroke-width="0.8"/>
<line x1="216.45" y1="214.5" x2="220.85" y2="214.5" stroke="#333" stroke-width="0.9"/>
<rect x="227" y="244.3" width="8" height="48" fill="#f7931e"/>
<line x1="231" y1="237.8" x2="231" y2="244.3" stroke="#333" stroke-width="0.8"/>
<line x1="228.8" y1="237.8" x2="233.2" y2="237.8" stroke="#333" stroke-width="0.9"/>
<text x="192.5" y="204.35" font-size="10.2" fill="#222" text-anchor="middle">***</text>
<text x="205.4" y="204.35" font-size="10.2" fill="#222" text-anchor="middle">**</text>
<text x="218.9" y="204.35" font-size="10.2" fill="#222" text-anchor="middle">***</text>
<text x="231.9" y="204.35" font-size="10.2" fill="#222" text-anchor="middle">**</text>
<text x="206.3" y="304.3" font-size="7" fill="#333333" text-anchor="middle" textLength="30" lengthAdjust="spacingAndGlyphs">H3K27ac</text>
<rect x="244.2" y="212.7" width="10" height="4.6" fill="#c41f34"/>
<text x="256.8" y="217.6" font-size="7.4" fill="#333333">Lin<tspan font-size="4.5" dy="-3">−</tspan></text>
<rect x="244.2" y="224" width="10" height="4.6" fill="#0b4f8a"/>
<text x="256.8" y="228.9" font-size="7.4" fill="#333333" textLength="29.7" lengthAdjust="spacingAndGlyphs">MLL-AF9</text>
<rect x="244.2" y="234.5" width="10" height="4.6" fill="#3bb54a"/>
<text x="256.8" y="239.4" font-size="7.4" fill="#333333" textLength="44.5" lengthAdjust="spacingAndGlyphs">HoxA9-Meis1</text>
<rect x="244.2" y="245.3" width="10" height="4.6" fill="#5c2a74"/>
<text x="256.8" y="250.2" font-size="7.4" fill="#333333" textLength="35.5" lengthAdjust="spacingAndGlyphs">PML-RARa</text>
<rect x="244.2" y="256.2" width="10" height="4.6" fill="#f7931e"/>
<text x="256.8" y="261.1" font-size="7.4" fill="#333333">FLT3<tspan font-size="4.2" dy="-3">ITD</tspan><tspan dy="3">/TET2</tspan><tspan font-size="4.2" dy="-3">−/−</tspan></text>
<text x="313.31" y="195.3" font-size="11" fill="#111" font-weight="bold" textLength="8.95" lengthAdjust="spacingAndGlyphs">H</text>
<line x1="356.5" y1="203.25" x2="356.5" y2="292.95" stroke="#2a2a2a" stroke-width="0.9"/>
<line x1="353.5" y1="292.5" x2="356.5" y2="292.5" stroke="#2a2a2a" stroke-width="0.9"/>
<line x1="354.1" y1="285.82" x2="356.5" y2="285.82" stroke="#2a2a2a" stroke-width="0.75"/>
<line x1="354.1" y1="281.91" x2="356.5" y2="281.91" stroke="#2a2a2a" stroke-width="0.75"/>
<line x1="354.1" y1="279.13" x2="356.5" y2="279.13" stroke="#2a2a2a" stroke-width="0.75"/>
<line x1="354.1" y1="276.98" x2="356.5" y2="276.98" stroke="#2a2a2a" stroke-width="0.75"/>
<line x1="354.1" y1="275.23" x2="356.5" y2="275.23" stroke="#2a2a2a" stroke-width="0.75"/>
<line x1="354.1" y1="273.74" x2="356.5" y2="273.74" stroke="#2a2a2a" stroke-width="0.75"/>
<line x1="354.1" y1="272.45" x2="356.5" y2="272.45" stroke="#2a2a2a" stroke-width="0.75"/>
<line x1="354.1" y1="271.32" x2="356.5" y2="271.32" stroke="#2a2a2a" stroke-width="0.75"/>
<line x1="353.5" y1="270.3" x2="356.5" y2="270.3" stroke="#2a2a2a" stroke-width="0.9"/>
<line x1="354.1" y1="263.62" x2="356.5" y2="263.62" stroke="#2a2a2a" stroke-width="0.75"/>
<line x1="354.1" y1="259.71" x2="356.5" y2="259.71" stroke="#2a2a2a" stroke-width="0.75"/>
<line x1="354.1" y1="256.93" x2="356.5" y2="256.93" stroke="#2a2a2a" stroke-width="0.75"/>
<line x1="354.1" y1="254.78" x2="356.5" y2="254.78" stroke="#2a2a2a" stroke-width="0.75"/>
<line x1="354.1" y1="253.03" x2="356.5" y2="253.03" stroke="#2a2a2a" stroke-width="0.75"/>
<line x1="354.1" y1="251.54" x2="356.5" y2="251.54" stroke="#2a2a2a" stroke-width="0.75"/>
<line x1="354.1" y1="250.25" x2="356.5" y2="250.25" stroke="#2a2a2a" stroke-width="0.75"/>
<line x1="354.1" y1="249.12" x2="356.5" y2="249.12" stroke="#2a2a2a" stroke-width="0.75"/>
<line x1="353.5" y1="248.1" x2="356.5" y2="248.1" stroke="#2a2a2a" stroke-width="0.9"/>
<line x1="354.1" y1="241.42" x2="356.5" y2="241.42" stroke="#2a2a2a" stroke-width="0.75"/>
<line x1="354.1" y1="237.51" x2="356.5" y2="237.51" stroke="#2a2a2a" stroke-width="0.75"/>
<line x1="354.1" y1="234.73" x2="356.5" y2="234.73" stroke="#2a2a2a" stroke-width="0.75"/>
<line x1="354.1" y1="232.58" x2="356.5" y2="232.58" stroke="#2a2a2a" stroke-width="0.75"/>
<line x1="354.1" y1="230.83" x2="356.5" y2="230.83" stroke="#2a2a2a" stroke-width="0.75"/>
<line x1="354.1" y1="229.34" x2="356.5" y2="229.34" stroke="#2a2a2a" stroke-width="0.75"/>
<line x1="354.1" y1="228.05" x2="356.5" y2="228.05" stroke="#2a2a2a" stroke-width="0.75"/>
<line x1="354.1" y1="226.92" x2="356.5" y2="226.92" stroke="#2a2a2a" stroke-width="0.75"/>
<line x1="353.5" y1="225.9" x2="356.5" y2="225.9" stroke="#2a2a2a" stroke-width="0.9"/>
<line x1="354.1" y1="219.22" x2="356.5" y2="219.22" stroke="#2a2a2a" stroke-width="0.75"/>
<line x1="354.1" y1="215.31" x2="356.5" y2="215.31" stroke="#2a2a2a" stroke-width="0.75"/>
<line x1="354.1" y1="212.53" x2="356.5" y2="212.53" stroke="#2a2a2a" stroke-width="0.75"/>
<line x1="354.1" y1="210.38" x2="356.5" y2="210.38" stroke="#2a2a2a" stroke-width="0.75"/>
<line x1="354.1" y1="208.63" x2="356.5" y2="208.63" stroke="#2a2a2a" stroke-width="0.75"/>
<line x1="354.1" y1="207.14" x2="356.5" y2="207.14" stroke="#2a2a2a" stroke-width="0.75"/>
<line x1="354.1" y1="205.85" x2="356.5" y2="205.85" stroke="#2a2a2a" stroke-width="0.75"/>
<line x1="354.1" y1="204.72" x2="356.5" y2="204.72" stroke="#2a2a2a" stroke-width="0.75"/>
<line x1="353.5" y1="203.7" x2="356.5" y2="203.7" stroke="#2a2a2a" stroke-width="0.9"/>
<text x="350.8" y="206.55" font-size="8.2" fill="#333333" text-anchor="end">1000</text>
<text x="350.8" y="228.75" font-size="8.2" fill="#333333" text-anchor="end">100</text>
<text x="350.8" y="250.95" font-size="8.2" fill="#333333" text-anchor="end">10</text>
<text x="350.8" y="273.15" font-size="8.2" fill="#333333" text-anchor="end">1</text>
<text x="350.8" y="295.35" font-size="8.2" fill="#333333" text-anchor="end">0.1</text>
<line x1="356.05" y1="292.5" x2="445" y2="292.5" stroke="#2a2a2a" stroke-width="0.9"/>
<line x1="399.5" y1="292.5" x2="399.5" y2="294.6" stroke="#2a2a2a" stroke-width="0.9"/>
<text transform="translate(320.7 247) rotate(-90)" font-size="9.4" fill="#333333" text-anchor="middle" textLength="97" lengthAdjust="spacingAndGlyphs">Enrichment on MCT4 promoter</text>
<text transform="translate(331.6 247) rotate(-90)" font-size="9.4" fill="#333333" text-anchor="middle" textLength="78" lengthAdjust="spacingAndGlyphs">normalized to input DNA</text>
<rect x="359.3" y="268.8" width="6" height="23.7" fill="#c41f34"/>
<line x1="362.3" y1="266.2" x2="362.3" y2="268.8" stroke="#333" stroke-width="0.8"/>
<line x1="360.3" y1="266.2" x2="364.3" y2="266.2" stroke="#333" stroke-width="0.9"/>
<rect x="368.75" y="259" width="6" height="33.5" fill="#0b4f8a"/>
<line x1="371.75" y1="254.5" x2="371.75" y2="259" stroke="#333" stroke-width="0.8"/>
<line x1="369.75" y1="254.5" x2="373.75" y2="254.5" stroke="#333" stroke-width="0.9"/>
<rect x="378" y="279.7" width="5.75" height="12.8" fill="#3bb54a"/>
<line x1="380.88" y1="272.5" x2="380.88" y2="279.7" stroke="#333" stroke-width="0.8"/>
<line x1="378.88" y1="272.5" x2="382.88" y2="272.5" stroke="#333" stroke-width="0.9"/>
<rect x="387.2" y="239.8" width="6" height="52.7" fill="#5c2a74"/>
<line x1="390.2" y1="237.3" x2="390.2" y2="239.8" stroke="#333" stroke-width="0.8"/>
<line x1="388.2" y1="237.3" x2="392.2" y2="237.3" stroke="#333" stroke-width="0.9"/>
<rect x="396.8" y="248.8" width="5.7" height="43.7" fill="#f7931e"/>
<line x1="399.65" y1="246.5" x2="399.65" y2="248.8" stroke="#333" stroke-width="0.8"/>
<line x1="397.65" y1="246.5" x2="401.65" y2="246.5" stroke="#333" stroke-width="0.9"/>
<rect x="406" y="230.8" width="5.9" height="61.7" fill="#0d6b50"/>
<line x1="408.95" y1="229.3" x2="408.95" y2="230.8" stroke="#333" stroke-width="0.8"/>
<line x1="406.95" y1="229.3" x2="410.95" y2="229.3" stroke="#333" stroke-width="0.9"/>
<rect x="415.2" y="226.8" width="5.9" height="65.7" fill="#8a80c0"/>
<line x1="418.15" y1="225" x2="418.15" y2="226.8" stroke="#333" stroke-width="0.8"/>
<line x1="416.15" y1="225" x2="420.15" y2="225" stroke="#333" stroke-width="0.9"/>
<rect x="424.5" y="230.8" width="5.8" height="61.7" fill="#3e4b5d"/>
<line x1="427.4" y1="228.7" x2="427.4" y2="230.8" stroke="#333" stroke-width="0.8"/>
<line x1="425.4" y1="228.7" x2="429.4" y2="228.7" stroke="#333" stroke-width="0.9"/>
<rect x="433.8" y="241.3" width="5.9" height="51.2" fill="#2aa9e0"/>
<line x1="436.75" y1="238.8" x2="436.75" y2="241.3" stroke="#333" stroke-width="0.8"/>
<line x1="434.75" y1="238.8" x2="438.75" y2="238.8" stroke="#333" stroke-width="0.9"/>
<text x="390.2" y="231.34" font-size="8.6" fill="#222" text-anchor="middle">*</text>
<text x="399.7" y="232.04" font-size="8.6" fill="#222" text-anchor="middle">*</text>
<text x="409.9" y="224.84" font-size="8.6" fill="#222" text-anchor="middle">*</text>
<text x="419.4" y="219.14" font-size="8.6" fill="#222" text-anchor="middle">*</text>
<text x="427.7" y="224.14" font-size="8.6" fill="#222" text-anchor="middle">*</text>
<text x="437.2" y="231.34" font-size="8.6" fill="#222" text-anchor="middle">*</text>
<text x="399.5" y="303.8" font-size="7" fill="#333333" text-anchor="middle" textLength="30" lengthAdjust="spacingAndGlyphs">H3K27ac</text>
<rect x="451.8" y="204.5" width="9.4" height="5" fill="#c41f34"/>
<text x="464.8" y="209.8" font-size="7.8" fill="#333333" textLength="17" lengthAdjust="spacingAndGlyphs">K562</text>
<rect x="451.8" y="215.22" width="9.4" height="5" fill="#0b4f8a"/>
<text x="464.8" y="220.52" font-size="7.8" fill="#333333" textLength="18" lengthAdjust="spacingAndGlyphs">KG1a</text>
<rect x="451.8" y="225.94" width="9.4" height="5" fill="#3bb54a"/>
<text x="464.8" y="231.24" font-size="7.8" fill="#333333" textLength="14.5" lengthAdjust="spacingAndGlyphs">NB4</text>
<rect x="451.8" y="236.66" width="9.4" height="5" fill="#5c2a74"/>
<text x="464.8" y="241.96" font-size="7.8" fill="#333333" textLength="33.5" lengthAdjust="spacingAndGlyphs">MOLM-14</text>
<rect x="451.8" y="247.38" width="9.4" height="5" fill="#f7931e"/>
<text x="464.8" y="252.68" font-size="7.8" fill="#333333" textLength="17.5" lengthAdjust="spacingAndGlyphs">U937</text>
<rect x="451.8" y="258.1" width="9.4" height="5" fill="#0d6b50"/>
<text x="464.8" y="263.4" font-size="7.8" fill="#333333" textLength="20" lengthAdjust="spacingAndGlyphs">THP-1</text>
<rect x="451.8" y="268.82" width="9.4" height="5" fill="#8a80c0"/>
<text x="464.8" y="274.12" font-size="7.8" fill="#333333" textLength="25.5" lengthAdjust="spacingAndGlyphs">MV4-11</text>
<rect x="451.8" y="279.54" width="9.4" height="5" fill="#3e4b5d"/>
<text x="464.8" y="284.84" font-size="7.8" fill="#333333" textLength="30.5" lengthAdjust="spacingAndGlyphs">NOMO-1</text>
<rect x="451.8" y="290.26" width="9.4" height="5" fill="#2aa9e0"/>
<text x="464.8" y="295.56" font-size="7.8" fill="#333333" textLength="35" lengthAdjust="spacingAndGlyphs">OCI-AML3</text>
<text x="9.4" y="357.3" font-size="11" fill="#111" font-weight="bold" textLength="3.67" lengthAdjust="spacingAndGlyphs">I</text>
<line x1="49.1" y1="364.75" x2="49.1" y2="455.05" stroke="#2a2a2a" stroke-width="0.9"/>
<line x1="45.9" y1="365.2" x2="49.1" y2="365.2" stroke="#2a2a2a" stroke-width="0.9"/>
<text x="43.2" y="368.05" font-size="8.2" fill="#333333" text-anchor="end">30</text>
<line x1="45.9" y1="395" x2="49.1" y2="395" stroke="#2a2a2a" stroke-width="0.9"/>
<text x="43.2" y="397.85" font-size="8.2" fill="#333333" text-anchor="end">20</text>
<line x1="45.9" y1="424.8" x2="49.1" y2="424.8" stroke="#2a2a2a" stroke-width="0.9"/>
<text x="43.2" y="427.65" font-size="8.2" fill="#333333" text-anchor="end">10</text>
<line x1="45.9" y1="454.6" x2="49.1" y2="454.6" stroke="#2a2a2a" stroke-width="0.9"/>
<text x="43.2" y="457.45" font-size="8.2" fill="#333333" text-anchor="end">0</text>
<line x1="48.65" y1="454.6" x2="102.6" y2="454.6" stroke="#2a2a2a" stroke-width="0.9"/>
<line x1="64.5" y1="454.6" x2="64.5" y2="457.6" stroke="#2a2a2a" stroke-width="0.9"/>
<line x1="87.2" y1="454.6" x2="87.2" y2="457.6" stroke="#2a2a2a" stroke-width="0.9"/>
<text transform="translate(19.8 410.5) rotate(-90)" font-size="9.4" fill="#333333" text-anchor="middle" textLength="95" lengthAdjust="spacingAndGlyphs">Enrichment on MCT4 promoter</text>
<text transform="translate(30.5 410) rotate(-90)" font-size="9.4" fill="#333333" text-anchor="middle" textLength="78" lengthAdjust="spacingAndGlyphs">normalized to CB control</text>
<circle cx="61" cy="448.8" r="1.7" fill="#c8102e"/>
<circle cx="61.2" cy="451.6" r="1.7" fill="#c8102e"/>
<circle cx="61.5" cy="453.6" r="1.7" fill="#c8102e"/>
<circle cx="65" cy="451.6" r="1.7" fill="#c8102e"/>
<circle cx="68" cy="451.6" r="1.7" fill="#c8102e"/>
<line x1="57.5" y1="451.6" x2="71" y2="451.6" stroke="#c8102e" stroke-width="0.9"/>
<rect x="85.5" y="378.3" width="3.4" height="3.4" fill="#0b4684"/>
<rect x="85.9" y="384.8" width="3.4" height="3.4" fill="#0b4684"/>
<rect x="85.9" y="397" width="3.4" height="3.4" fill="#0b4684"/>
<rect x="85.5" y="435.3" width="3.4" height="3.4" fill="#0b4684"/>
<rect x="85.9" y="443.8" width="3.4" height="3.4" fill="#0b4684"/>
<line x1="79.9" y1="409.5" x2="94.9" y2="409.5" stroke="#0b4f8a" stroke-width="0.9"/>
<line x1="87.4" y1="396" x2="87.4" y2="422.7" stroke="#0b4f8a" stroke-width="0.9"/>
<line x1="83" y1="396" x2="91.8" y2="396" stroke="#0b4f8a" stroke-width="0.9"/>
<line x1="83" y1="422.7" x2="91.8" y2="422.7" stroke="#0b4f8a" stroke-width="0.9"/>
<path d="M64.5 408V369.6H86.6V374" stroke="#444" stroke-width="0.9" fill="none"/>
<text x="75.5" y="370.84" font-size="8.6" fill="#222" text-anchor="middle">*</text>
<text x="64.4" y="466.8" font-size="7.8" fill="#333333" text-anchor="middle" textLength="9.4" lengthAdjust="spacingAndGlyphs">CB</text>
<text x="87.6" y="466.8" font-size="7.8" fill="#333333" text-anchor="middle" textLength="15" lengthAdjust="spacingAndGlyphs">AML</text>
<text x="129.62" y="357.3" font-size="11" fill="#111" font-weight="bold" textLength="5.51" lengthAdjust="spacingAndGlyphs">J</text>
<line x1="155.6" y1="364.75" x2="155.6" y2="455.05" stroke="#2a2a2a" stroke-width="0.9"/>
<line x1="152.4" y1="365.2" x2="155.6" y2="365.2" stroke="#2a2a2a" stroke-width="0.9"/>
<text x="149.7" y="368.05" font-size="8.2" fill="#333333" text-anchor="end">40</text>
<line x1="152.4" y1="387.55" x2="155.6" y2="387.55" stroke="#2a2a2a" stroke-width="0.9"/>
<text x="149.7" y="390.4" font-size="8.2" fill="#333333" text-anchor="end">30</text>
<line x1="152.4" y1="409.9" x2="155.6" y2="409.9" stroke="#2a2a2a" stroke-width="0.9"/>
<text x="149.7" y="412.75" font-size="8.2" fill="#333333" text-anchor="end">20</text>
<line x1="152.4" y1="432.25" x2="155.6" y2="432.25" stroke="#2a2a2a" stroke-width="0.9"/>
<text x="149.7" y="435.1" font-size="8.2" fill="#333333" text-anchor="end">10</text>
<line x1="152.4" y1="454.6" x2="155.6" y2="454.6" stroke="#2a2a2a" stroke-width="0.9"/>
<text x="149.7" y="457.45" font-size="8.2" fill="#333333" text-anchor="end">0</text>
<line x1="155.15" y1="454.6" x2="222.7" y2="454.6" stroke="#2a2a2a" stroke-width="0.9"/>
<line x1="155.6" y1="454.6" x2="155.6" y2="457.6" stroke="#2a2a2a" stroke-width="0.9"/>
<line x1="168.92" y1="454.6" x2="168.92" y2="457.6" stroke="#2a2a2a" stroke-width="0.9"/>
<line x1="182.24" y1="454.6" x2="182.24" y2="457.6" stroke="#2a2a2a" stroke-width="0.9"/>
<line x1="195.56" y1="454.6" x2="195.56" y2="457.6" stroke="#2a2a2a" stroke-width="0.9"/>
<line x1="208.88" y1="454.6" x2="208.88" y2="457.6" stroke="#2a2a2a" stroke-width="0.9"/>
<line x1="222.2" y1="454.6" x2="222.2" y2="457.6" stroke="#2a2a2a" stroke-width="0.9"/>
<text x="155.6" y="466.4" font-size="8.5" fill="#333333" text-anchor="middle">0</text>
<text x="168.92" y="466.4" font-size="8.5" fill="#333333" text-anchor="middle">2</text>
<text x="182.24" y="466.4" font-size="8.5" fill="#333333" text-anchor="middle">4</text>
<text x="195.56" y="466.4" font-size="8.5" fill="#333333" text-anchor="middle">6</text>
<text x="208.88" y="466.4" font-size="8.5" fill="#333333" text-anchor="middle">8</text>
<text x="222.2" y="466.4" font-size="8.5" fill="#333333" text-anchor="middle">10</text>
<text x="189" y="476.8" font-size="9" fill="#333333" text-anchor="middle" textLength="53" lengthAdjust="spacingAndGlyphs">MCT4 expression</text>
<text transform="translate(137.6 409.7) rotate(-90)" font-size="9.4" fill="#333333" text-anchor="middle" textLength="67" lengthAdjust="spacingAndGlyphs">H3K27Ac enrichment</text>
<line x1="158.2" y1="453.7" x2="209.7" y2="389" stroke="#111" stroke-width="1.3"/>
<rect x="170.9" y="439.8" width="3.4" height="3.4" fill="#0b4684"/>
<rect x="170.9" y="446" width="3.4" height="3.4" fill="#0b4684"/>
<rect x="175.6" y="411.1" width="3.4" height="3.4" fill="#0b4684"/>
<rect x="182.7" y="401.8" width="3.4" height="3.4" fill="#0b4684"/>
<rect x="207.5" y="397" width="3.4" height="3.4" fill="#0b4684"/>
<circle cx="158.8" cy="453.2" r="1.6" fill="#c8102e"/>
<circle cx="160.3" cy="452.6" r="1.6" fill="#c8102e"/>
<circle cx="161.8" cy="451.9" r="1.6" fill="#c8102e"/>
<circle cx="163.3" cy="451" r="1.6" fill="#c8102e"/>
<circle cx="164.6" cy="450.3" r="1.6" fill="#c8102e"/>
<circle cx="160.8" cy="453.6" r="1.6" fill="#c8102e"/>
<rect x="161.3" y="360.5" width="65.2" height="24.3" fill="#fff" stroke="#444" stroke-width="0.8"/>
<text x="163.8" y="369.8" font-size="7.8" fill="#333333" textLength="37.2" lengthAdjust="spacingAndGlyphs">R<tspan font-size="4.5" dy="-3">2</tspan><tspan dy="3"> = 0.5535</tspan></text>
<text x="163.8" y="380.3" font-size="7.8" fill="#333333" textLength="29.7" lengthAdjust="spacingAndGlyphs">p = 0.034</text>
<rect x="205.4" y="366.8" width="1.8" height="1.8" fill="#0b4684"/>
<circle cx="206.3" cy="377.7" r="0.9" fill="#c8102e"/>
<text x="209.7" y="369.8" font-size="7.8" fill="#333333" textLength="14.5" lengthAdjust="spacingAndGlyphs">AML</text>
<text x="209.7" y="380.3" font-size="7.8" fill="#333333" textLength="9.3" lengthAdjust="spacingAndGlyphs">CB</text>
<text x="244.29" y="357.3" font-size="11" fill="#111" font-weight="bold" textLength="8.56" lengthAdjust="spacingAndGlyphs">K</text>
<line x1="287.5" y1="365.05" x2="287.5" y2="454.45" stroke="#2a2a2a" stroke-width="0.9"/>
<line x1="284.3" y1="365.5" x2="287.5" y2="365.5" stroke="#2a2a2a" stroke-width="0.9"/>
<text x="281.6" y="368.35" font-size="8.2" fill="#333333" text-anchor="end">5</text>
<line x1="284.3" y1="383.2" x2="287.5" y2="383.2" stroke="#2a2a2a" stroke-width="0.9"/>
<text x="281.6" y="386.05" font-size="8.2" fill="#333333" text-anchor="end">4</text>
<line x1="284.3" y1="400.9" x2="287.5" y2="400.9" stroke="#2a2a2a" stroke-width="0.9"/>
<text x="281.6" y="403.75" font-size="8.2" fill="#333333" text-anchor="end">3</text>
<line x1="284.3" y1="418.6" x2="287.5" y2="418.6" stroke="#2a2a2a" stroke-width="0.9"/>
<text x="281.6" y="421.45" font-size="8.2" fill="#333333" text-anchor="end">2</text>
<line x1="284.3" y1="436.3" x2="287.5" y2="436.3" stroke="#2a2a2a" stroke-width="0.9"/>
<text x="281.6" y="439.15" font-size="8.2" fill="#333333" text-anchor="end">1</text>
<line x1="284.3" y1="454" x2="287.5" y2="454" stroke="#2a2a2a" stroke-width="0.9"/>
<text x="281.6" y="456.85" font-size="8.2" fill="#333333" text-anchor="end">0</text>
<line x1="287.05" y1="454" x2="340" y2="454" stroke="#2a2a2a" stroke-width="0.9"/>
<line x1="297.8" y1="454" x2="297.8" y2="457" stroke="#2a2a2a" stroke-width="0.9"/>
<line x1="313.7" y1="454" x2="313.7" y2="457" stroke="#2a2a2a" stroke-width="0.9"/>
<line x1="329.5" y1="454" x2="329.5" y2="457" stroke="#2a2a2a" stroke-width="0.9"/>
<text transform="translate(261.2 410) rotate(-90)" font-size="9.4" fill="#333333" text-anchor="middle" textLength="97" lengthAdjust="spacingAndGlyphs">H3K27Ac Enrichment on MCT4</text>
<text transform="translate(272.5 409.5) rotate(-90)" font-size="9.4" fill="#333333" text-anchor="middle" textLength="97" lengthAdjust="spacingAndGlyphs">promoter normalized to control</text>
<circle cx="294" cy="433.3" r="1.8" fill="#c8102e"/>
<circle cx="294" cy="439.8" r="1.8" fill="#c8102e"/>
<circle cx="300.8" cy="436.45" r="1.8" fill="#c8102e"/>
<circle cx="297.5" cy="436.45" r="1.8" fill="#c8102e"/>
<line x1="292.8" y1="436.45" x2="302.8" y2="436.45" stroke="#c8102e" stroke-width="0.9"/>
<line x1="297.8" y1="435" x2="297.8" y2="438" stroke="#c8102e" stroke-width="0.9"/>
<line x1="295.3" y1="435" x2="300.3" y2="435" stroke="#c8102e" stroke-width="0.9"/>
<line x1="295.3" y1="438" x2="300.3" y2="438" stroke="#c8102e" stroke-width="0.9"/>
<rect x="312" y="391.6" width="3.4" height="3.4" fill="#0b4684"/>
<rect x="312" y="405.8" width="3.4" height="3.4" fill="#0b4684"/>
<rect x="312" y="409.1" width="3.4" height="3.4" fill="#0b4684"/>
<rect x="312" y="412.3" width="3.4" height="3.4" fill="#0b4684"/>
<line x1="308.5" y1="404.8" x2="318.9" y2="404.8" stroke="#0b4f8a" stroke-width="0.9"/>
<line x1="313.7" y1="398.6" x2="313.7" y2="411.2" stroke="#0b4f8a" stroke-width="0.9"/>
<line x1="310.9" y1="398.6" x2="316.5" y2="398.6" stroke="#0b4f8a" stroke-width="0.9"/>
<line x1="310.9" y1="411.2" x2="316.5" y2="411.2" stroke="#0b4f8a" stroke-width="0.9"/>
<polygon points="329.5,389.52 331.4,392.82 327.6,392.82" fill="#3bb54a"/>
<polygon points="326.5,412.32 328.4,415.62 324.6,415.62" fill="#3bb54a"/>
<polygon points="333.3,408.82 335.2,412.12 331.4,412.12" fill="#3bb54a"/>
<line x1="324.4" y1="405" x2="334.8" y2="405" stroke="#3bb54a" stroke-width="0.9"/>
<line x1="329.6" y1="398.2" x2="329.6" y2="412" stroke="#3bb54a" stroke-width="0.9"/>
<line x1="326.8" y1="398.2" x2="332.4" y2="398.2" stroke="#3bb54a" stroke-width="0.9"/>
<line x1="326.8" y1="412" x2="332.4" y2="412" stroke="#3bb54a" stroke-width="0.9"/>
<path d="M298.7 407.8V380.3H313.5V383.3" stroke="#444" stroke-width="0.9" fill="none"/>
<text x="306.6" y="382.14" font-size="8.6" fill="#222" text-anchor="middle">*</text>
<path d="M298.7 374.2V368.8H329.5V379.8" stroke="#444" stroke-width="0.9" fill="none"/>
<text x="314.8" y="370.04" font-size="8.6" fill="#222" text-anchor="middle">*</text>
<text transform="translate(299.8 462.4) rotate(-45)" font-size="7.85" fill="#333333" text-anchor="end" class="xl">Control</text>
<text transform="translate(315.7 462.4) rotate(-45)" font-size="7.85" fill="#333333" text-anchor="end" class="xl">MLL-AF9</text>
<text transform="translate(331.5 462.4) rotate(-45)" font-size="7.85" fill="#333333" text-anchor="end" class="xl">RAS<tspan font-size="4.2" dy="-3.2">G12D</tspan></text>
<text x="364.39" y="357" font-size="11" fill="#111" font-weight="bold" textLength="6.06" lengthAdjust="spacingAndGlyphs">L</text>
<line x1="404.5" y1="364.6" x2="404.5" y2="454.45" stroke="#2a2a2a" stroke-width="0.9"/>
<line x1="401.3" y1="365.05" x2="404.5" y2="365.05" stroke="#2a2a2a" stroke-width="0.9"/>
<text x="398.6" y="367.9" font-size="8.2" fill="#333333" text-anchor="end">1.5</text>
<line x1="401.3" y1="394.7" x2="404.5" y2="394.7" stroke="#2a2a2a" stroke-width="0.9"/>
<text x="398.6" y="397.55" font-size="8.2" fill="#333333" text-anchor="end">1.0</text>
<line x1="401.3" y1="424.35" x2="404.5" y2="424.35" stroke="#2a2a2a" stroke-width="0.9"/>
<text x="398.6" y="427.2" font-size="8.2" fill="#333333" text-anchor="end">0.5</text>
<line x1="401.3" y1="454" x2="404.5" y2="454" stroke="#2a2a2a" stroke-width="0.9"/>
<text x="398.6" y="456.85" font-size="8.2" fill="#333333" text-anchor="end">0.0</text>
<line x1="404.05" y1="454" x2="457.8" y2="454" stroke="#2a2a2a" stroke-width="0.9"/>
<line x1="414.6" y1="454" x2="414.6" y2="457" stroke="#2a2a2a" stroke-width="0.9"/>
<line x1="431.3" y1="454" x2="431.3" y2="457" stroke="#2a2a2a" stroke-width="0.9"/>
<line x1="447.8" y1="454" x2="447.8" y2="457" stroke="#2a2a2a" stroke-width="0.9"/>
<text transform="translate(371.6 410.2) rotate(-90)" font-size="9.4" fill="#333333" text-anchor="middle" textLength="84" lengthAdjust="spacingAndGlyphs">BRD4 enrichment on MCT4</text>
<text transform="translate(383.4 410.2) rotate(-90)" font-size="9.4" fill="#333333" text-anchor="middle" textLength="96.5" lengthAdjust="spacingAndGlyphs">promoter normalized to vehicle</text>
<rect x="409.3" y="395.5" width="11" height="58.5" fill="#c41f34"/>
<line x1="414.8" y1="390.7" x2="414.8" y2="395.5" stroke="#333" stroke-width="0.8"/>
<line x1="412" y1="390.7" x2="417.6" y2="390.7" stroke="#333" stroke-width="0.9"/>
<rect x="425.8" y="449" width="11" height="5" fill="#0b4f8a"/>
<line x1="431.3" y1="445.5" x2="431.3" y2="449" stroke="#333" stroke-width="0.8"/>
<line x1="428.5" y1="445.5" x2="434.1" y2="445.5" stroke="#333" stroke-width="0.9"/>
<rect x="442.5" y="449.5" width="11" height="4.5" fill="#3bb54a"/>
<line x1="448" y1="446.2" x2="448" y2="449.5" stroke="#333" stroke-width="0.8"/>
<line x1="445.2" y1="446.2" x2="450.8" y2="446.2" stroke="#333" stroke-width="0.9"/>
<path d="M414.5 386V383.3H433V412" stroke="#444" stroke-width="0.9" fill="none"/>
<text x="424" y="385.85" font-size="10.2" fill="#222" text-anchor="middle">***</text>
<path d="M414.5 374.8V371.7H450.7V412" stroke="#444" stroke-width="0.9" fill="none"/>
<text x="432.6" y="373.85" font-size="10.2" fill="#222" text-anchor="middle">**</text>
<text transform="translate(416.6 462.4) rotate(-45)" font-size="7.35" fill="#333333" text-anchor="end" class="xl">Vehicle</text>
<text transform="translate(433.3 462.4) rotate(-45)" font-size="7.35" fill="#333333" text-anchor="end" class="xl">100nM JQ-1</text>
<text transform="translate(449.8 462.4) rotate(-45)" font-size="7.35" fill="#333333" text-anchor="end" class="xl">200nM JQ-1</text>
<text x="9.15" y="509.5" font-size="11" fill="#111" font-weight="bold" textLength="10.89" lengthAdjust="spacingAndGlyphs">M</text>
<line x1="49.4" y1="520.15" x2="49.4" y2="610.15" stroke="#2a2a2a" stroke-width="0.9"/>
<line x1="46.2" y1="520.6" x2="49.4" y2="520.6" stroke="#2a2a2a" stroke-width="0.9"/>
<text x="43.5" y="523.45" font-size="8.2" fill="#333333" text-anchor="end">1.5</text>
<line x1="46.2" y1="550.3" x2="49.4" y2="550.3" stroke="#2a2a2a" stroke-width="0.9"/>
<text x="43.5" y="553.15" font-size="8.2" fill="#333333" text-anchor="end">1.0</text>
<line x1="46.2" y1="580" x2="49.4" y2="580" stroke="#2a2a2a" stroke-width="0.9"/>
<text x="43.5" y="582.85" font-size="8.2" fill="#333333" text-anchor="end">0.5</text>
<line x1="46.2" y1="609.7" x2="49.4" y2="609.7" stroke="#2a2a2a" stroke-width="0.9"/>
<text x="43.5" y="612.55" font-size="8.2" fill="#333333" text-anchor="end">0.0</text>
<line x1="48.95" y1="609.6" x2="102.5" y2="609.6" stroke="#2a2a2a" stroke-width="0.9"/>
<line x1="59.5" y1="609.6" x2="59.5" y2="612.6" stroke="#2a2a2a" stroke-width="0.9"/>
<line x1="76.25" y1="609.6" x2="76.25" y2="612.6" stroke="#2a2a2a" stroke-width="0.9"/>
<line x1="92.5" y1="609.6" x2="92.5" y2="612.6" stroke="#2a2a2a" stroke-width="0.9"/>
<text transform="translate(15.6 564.7) rotate(-90)" font-size="9.4" fill="#333333" text-anchor="middle" textLength="96.5" lengthAdjust="spacingAndGlyphs">H3K27Ac enrichment on MCT4</text>
<text transform="translate(27.6 564.2) rotate(-90)" font-size="9.4" fill="#333333" text-anchor="middle" textLength="97" lengthAdjust="spacingAndGlyphs">promoter normalized to vehicle</text>
<rect x="54" y="551.5" width="10.9" height="58.1" fill="#c41f34"/>
<line x1="59.45" y1="543.3" x2="59.45" y2="551.5" stroke="#333" stroke-width="0.8"/>
<line x1="56.65" y1="543.3" x2="62.25" y2="543.3" stroke="#333" stroke-width="0.9"/>
<rect x="70.5" y="607" width="11.5" height="2.6" fill="#0b4f8a"/>
<line x1="76.25" y1="605" x2="76.25" y2="607" stroke="#333" stroke-width="0.8"/>
<line x1="73.45" y1="605" x2="79.05" y2="605" stroke="#333" stroke-width="0.9"/>
<rect x="87" y="608.8" width="11.8" height="0.8" fill="#3bb54a"/>
<line x1="92.9" y1="607.5" x2="92.9" y2="608.8" stroke="#333" stroke-width="0.8"/>
<line x1="90.1" y1="607.5" x2="95.7" y2="607.5" stroke="#333" stroke-width="0.9"/>
<path d="M59.2 541V538.3H77.5V567.7" stroke="#444" stroke-width="0.9" fill="none"/>
<text x="68.3" y="539.94" font-size="8.6" fill="#222" text-anchor="middle">*</text>
<path d="M59.2 530.8V527.5H95.8V567.7" stroke="#444" stroke-width="0.9" fill="none"/>
<text x="77.8" y="527.84" font-size="8.6" fill="#222" text-anchor="middle">*</text>
<text transform="translate(61.5 618) rotate(-45)" font-size="7.35" fill="#333333" text-anchor="end" class="xl">Vehicle</text>
<text transform="translate(78.25 618) rotate(-45)" font-size="7.35" fill="#333333" text-anchor="end" class="xl">100nM JQ-1</text>
<text transform="translate(94.5 618) rotate(-45)" font-size="7.35" fill="#333333" text-anchor="end" class="xl">200nM JQ-1</text>
<text x="115.76" y="509.3" font-size="11" fill="#111" font-weight="bold" textLength="9.53" lengthAdjust="spacingAndGlyphs">N</text>
<line x1="155.6" y1="520.3" x2="155.6" y2="610.45" stroke="#2a2a2a" stroke-width="0.9"/>
<line x1="152.4" y1="520.75" x2="155.6" y2="520.75" stroke="#2a2a2a" stroke-width="0.9"/>
<text x="149.7" y="523.6" font-size="8.2" fill="#333333" text-anchor="end">1.5</text>
<line x1="152.4" y1="550.5" x2="155.6" y2="550.5" stroke="#2a2a2a" stroke-width="0.9"/>
<text x="149.7" y="553.35" font-size="8.2" fill="#333333" text-anchor="end">1.0</text>
<line x1="152.4" y1="580.25" x2="155.6" y2="580.25" stroke="#2a2a2a" stroke-width="0.9"/>
<text x="149.7" y="583.1" font-size="8.2" fill="#333333" text-anchor="end">0.5</text>
<line x1="152.4" y1="610" x2="155.6" y2="610" stroke="#2a2a2a" stroke-width="0.9"/>
<text x="149.7" y="612.85" font-size="8.2" fill="#333333" text-anchor="end">0.0</text>
<line x1="155.15" y1="610" x2="208.7" y2="610" stroke="#2a2a2a" stroke-width="0.9"/>
<line x1="171" y1="610" x2="171" y2="613" stroke="#2a2a2a" stroke-width="0.9"/>
<line x1="193.8" y1="610" x2="193.8" y2="613" stroke="#2a2a2a" stroke-width="0.9"/>
<text transform="translate(122.8 560.2) rotate(-90)" font-size="9.4" fill="#333333" text-anchor="middle" textLength="53.5" lengthAdjust="spacingAndGlyphs">MCT4 expression</text>
<text transform="translate(134 560.2) rotate(-90)" font-size="9.4" fill="#333333" text-anchor="middle" textLength="89" lengthAdjust="spacingAndGlyphs">normalized to vehicle control</text>
<circle cx="170.7" cy="542.5" r="1.8" fill="#c8102e"/>
<circle cx="170.7" cy="547.8" r="1.8" fill="#c8102e"/>
<circle cx="167.3" cy="551.8" r="1.8" fill="#c8102e"/>
<circle cx="174.3" cy="553" r="1.8" fill="#c8102e"/>
<circle cx="167.3" cy="556.3" r="1.8" fill="#c8102e"/>
<line x1="163.2" y1="550.3" x2="178.4" y2="550.3" stroke="#c8102e" stroke-width="0.9"/>
<line x1="170.8" y1="547.8" x2="170.8" y2="553" stroke="#c8102e" stroke-width="0.9"/>
<line x1="167.8" y1="547.8" x2="173.8" y2="547.8" stroke="#c8102e" stroke-width="0.9"/>
<line x1="167.8" y1="553" x2="173.8" y2="553" stroke="#c8102e" stroke-width="0.9"/>
<rect x="188.5" y="569.6" width="3.4" height="3.4" fill="#0b4684"/>
<rect x="196" y="570.1" width="3.4" height="3.4" fill="#0b4684"/>
<rect x="192.1" y="582.1" width="3.4" height="3.4" fill="#0b4684"/>
<rect x="196" y="586.6" width="3.4" height="3.4" fill="#0b4684"/>
<rect x="188.5" y="590" width="3.4" height="3.4" fill="#0b4684"/>
<line x1="186.1" y1="581.8" x2="201.7" y2="581.8" stroke="#0b4f8a" stroke-width="0.9"/>
<line x1="193.9" y1="577.8" x2="193.9" y2="585.7" stroke="#0b4f8a" stroke-width="0.9"/>
<line x1="190.3" y1="577.8" x2="197.5" y2="577.8" stroke="#0b4f8a" stroke-width="0.9"/>
<line x1="190.3" y1="585.7" x2="197.5" y2="585.7" stroke="#0b4f8a" stroke-width="0.9"/>
<path d="M170.7 536.5V531.3H193.8V556" stroke="#444" stroke-width="0.9" fill="none"/>
<text x="182.8" y="531.04" font-size="8.6" fill="#222" text-anchor="middle">*</text>
<text transform="translate(173 618.4) rotate(-45)" font-size="7.35" fill="#333333" text-anchor="end" class="xl">Vehicle</text>
<text transform="translate(195.8 618.4) rotate(-45)" font-size="7.35" fill="#333333" text-anchor="end" class="xl">100nM JQ-1</text>
<text x="224.55" y="509.3" font-size="11" fill="#111" font-weight="bold" textLength="9.93" lengthAdjust="spacingAndGlyphs">O</text>
<line x1="267.5" y1="520.9" x2="267.5" y2="610.75" stroke="#2a2a2a" stroke-width="0.9"/>
<line x1="264.3" y1="521.35" x2="267.5" y2="521.35" stroke="#2a2a2a" stroke-width="0.9"/>
<text x="261.6" y="524.2" font-size="8.2" fill="#333333" text-anchor="end">1.5</text>
<line x1="264.3" y1="551" x2="267.5" y2="551" stroke="#2a2a2a" stroke-width="0.9"/>
<text x="261.6" y="553.85" font-size="8.2" fill="#333333" text-anchor="end">1.0</text>
<line x1="264.3" y1="580.65" x2="267.5" y2="580.65" stroke="#2a2a2a" stroke-width="0.9"/>
<text x="261.6" y="583.5" font-size="8.2" fill="#333333" text-anchor="end">0.5</text>
<line x1="264.3" y1="610.3" x2="267.5" y2="610.3" stroke="#2a2a2a" stroke-width="0.9"/>
<text x="261.6" y="613.15" font-size="8.2" fill="#333333" text-anchor="end">0.0</text>
<line x1="267.05" y1="610" x2="320.5" y2="610" stroke="#2a2a2a" stroke-width="0.9"/>
<line x1="282.5" y1="610" x2="282.5" y2="613" stroke="#2a2a2a" stroke-width="0.9"/>
<line x1="305.2" y1="610" x2="305.2" y2="613" stroke="#2a2a2a" stroke-width="0.9"/>
<text transform="translate(236.6 560.6) rotate(-90)" font-size="9.4" fill="#333333" text-anchor="middle" textLength="97" lengthAdjust="spacingAndGlyphs">H3K27Ac enrichment on MCT4</text>
<text transform="translate(247.3 560.6) rotate(-90)" font-size="9.4" fill="#333333" text-anchor="middle" textLength="97" lengthAdjust="spacingAndGlyphs">promoter normalized to vehicle</text>
<circle cx="282.5" cy="544.4" r="1.8" fill="#c8102e"/>
<circle cx="279.2" cy="551" r="1.8" fill="#c8102e"/>
<circle cx="285.8" cy="551.6" r="1.8" fill="#c8102e"/>
<circle cx="282.5" cy="557" r="1.8" fill="#c8102e"/>
<line x1="275" y1="550.8" x2="290" y2="550.8" stroke="#c8102e" stroke-width="0.9"/>
<line x1="282.5" y1="548.3" x2="282.5" y2="553.3" stroke="#c8102e" stroke-width="0.9"/>
<line x1="279.7" y1="548.3" x2="285.3" y2="548.3" stroke="#c8102e" stroke-width="0.9"/>
<line x1="279.7" y1="553.3" x2="285.3" y2="553.3" stroke="#c8102e" stroke-width="0.9"/>
<rect x="303.7" y="582.9" width="3.4" height="3.4" fill="#0b4684"/>
<rect x="300.3" y="600.3" width="3.4" height="3.4" fill="#0b4684"/>
<rect x="307.3" y="602.1" width="3.4" height="3.4" fill="#0b4684"/>
<rect x="300.3" y="605.3" width="3.4" height="3.4" fill="#0b4684"/>
<line x1="297.9" y1="599.3" x2="312.5" y2="599.3" stroke="#0b4f8a" stroke-width="0.9"/>
<line x1="305.2" y1="594.5" x2="305.2" y2="604" stroke="#0b4f8a" stroke-width="0.9"/>
<line x1="301.6" y1="594.5" x2="308.8" y2="594.5" stroke="#0b4f8a" stroke-width="0.9"/>
<line x1="301.6" y1="604" x2="308.8" y2="604" stroke="#0b4f8a" stroke-width="0.9"/>
<path d="M282.5 537.3V532.5H305.3V565.8" stroke="#444" stroke-width="0.9" fill="none"/>
<text x="294.6" y="533.09" font-size="8.6" fill="#222" text-anchor="middle">*</text>
<text transform="translate(284.5 618.4) rotate(-45)" font-size="7.35" fill="#333333" text-anchor="end" class="xl">Vehicle</text>
<text transform="translate(307.2 618.4) rotate(-45)" font-size="7.35" fill="#333333" text-anchor="end" class="xl">100nM JQ-1</text>
<text x="330.45" y="509.5" font-size="11" fill="#111" font-weight="bold" textLength="7.59" lengthAdjust="spacingAndGlyphs">P</text>
<line x1="357.2" y1="520.6" x2="357.2" y2="610.45" stroke="#2a2a2a" stroke-width="0.9"/>
<line x1="354" y1="521.05" x2="357.2" y2="521.05" stroke="#2a2a2a" stroke-width="0.9"/>
<text x="351.3" y="523.9" font-size="8.2" fill="#333333" text-anchor="end">1.5</text>
<line x1="354" y1="550.7" x2="357.2" y2="550.7" stroke="#2a2a2a" stroke-width="0.9"/>
<text x="351.3" y="553.55" font-size="8.2" fill="#333333" text-anchor="end">1.0</text>
<line x1="354" y1="580.35" x2="357.2" y2="580.35" stroke="#2a2a2a" stroke-width="0.9"/>
<text x="351.3" y="583.2" font-size="8.2" fill="#333333" text-anchor="end">0.5</text>
<line x1="354" y1="610" x2="357.2" y2="610" stroke="#2a2a2a" stroke-width="0.9"/>
<text x="351.3" y="612.85" font-size="8.2" fill="#333333" text-anchor="end">0.0</text>
<line x1="356.75" y1="610" x2="410" y2="610" stroke="#2a2a2a" stroke-width="0.9"/>
<line x1="372.4" y1="610" x2="372.4" y2="613" stroke="#2a2a2a" stroke-width="0.9"/>
<line x1="395.2" y1="610" x2="395.2" y2="613" stroke="#2a2a2a" stroke-width="0.9"/>
<text transform="translate(336.3 566) rotate(-90)" font-size="9.4" fill="#333333" text-anchor="middle" textLength="66" lengthAdjust="spacingAndGlyphs">Cell number x10<tspan font-size="4.5" dy="-3">6</tspan><tspan dy="3">/mL</tspan></text>
<circle cx="372.2" cy="535.2" r="1.8" fill="#c8102e"/>
<circle cx="372.2" cy="544.5" r="1.8" fill="#c8102e"/>
<circle cx="368.8" cy="554.3" r="1.8" fill="#c8102e"/>
<circle cx="375.8" cy="556.8" r="1.8" fill="#c8102e"/>
<circle cx="372.2" cy="563.7" r="1.8" fill="#c8102e"/>
<line x1="364.7" y1="550.8" x2="379.7" y2="550.8" stroke="#c8102e" stroke-width="0.9"/>
<line x1="372.2" y1="545.7" x2="372.2" y2="555.8" stroke="#c8102e" stroke-width="0.9"/>
<line x1="369.4" y1="545.7" x2="375" y2="545.7" stroke="#c8102e" stroke-width="0.9"/>
<line x1="369.4" y1="555.8" x2="375" y2="555.8" stroke="#c8102e" stroke-width="0.9"/>
<rect x="387.6" y="571.1" width="3.4" height="3.4" fill="#0b4684"/>
<rect x="393.6" y="573.8" width="3.4" height="3.4" fill="#0b4684"/>
<rect x="399.3" y="569.3" width="3.4" height="3.4" fill="#0b4684"/>
<rect x="399.3" y="573.1" width="3.4" height="3.4" fill="#0b4684"/>
<rect x="393.6" y="589.1" width="3.4" height="3.4" fill="#0b4684"/>
<line x1="387.5" y1="577" x2="402.9" y2="577" stroke="#0b4f8a" stroke-width="0.9"/>
<line x1="395.2" y1="574.3" x2="395.2" y2="580.3" stroke="#0b4f8a" stroke-width="0.9"/>
<line x1="391.6" y1="574.3" x2="398.8" y2="574.3" stroke="#0b4f8a" stroke-width="0.9"/>
<line x1="391.6" y1="580.3" x2="398.8" y2="580.3" stroke="#0b4f8a" stroke-width="0.9"/>
<path d="M372.2 528.7V523.4H395.3V544.3" stroke="#444" stroke-width="0.9" fill="none"/>
<text x="400.4" y="571.37" font-size="6.5" fill="#222" text-anchor="middle">*</text>
<text x="384.3" y="523.94" font-size="8.6" fill="#222" text-anchor="middle">*</text>
<text transform="translate(374.4 618.4) rotate(-45)" font-size="7.35" fill="#333333" text-anchor="end" class="xl">Vehicle</text>
<text transform="translate(397.2 618.4) rotate(-45)" font-size="7.35" fill="#333333" text-anchor="end" class="xl">100nM JQ-1</text>
<text x="413.55" y="509.5" font-size="11" fill="#111" font-weight="bold" textLength="9.93" lengthAdjust="spacingAndGlyphs">Q</text>
<line x1="444.2" y1="520.95" x2="444.2" y2="610.45" stroke="#2a2a2a" stroke-width="0.9"/>
<line x1="441" y1="521.4" x2="444.2" y2="521.4" stroke="#2a2a2a" stroke-width="0.9"/>
<text x="438.3" y="524.25" font-size="8.2" fill="#333333" text-anchor="end">100</text>
<line x1="441" y1="539.12" x2="444.2" y2="539.12" stroke="#2a2a2a" stroke-width="0.9"/>
<text x="438.3" y="541.97" font-size="8.2" fill="#333333" text-anchor="end">80</text>
<line x1="441" y1="556.84" x2="444.2" y2="556.84" stroke="#2a2a2a" stroke-width="0.9"/>
<text x="438.3" y="559.69" font-size="8.2" fill="#333333" text-anchor="end">60</text>
<line x1="441" y1="574.56" x2="444.2" y2="574.56" stroke="#2a2a2a" stroke-width="0.9"/>
<text x="438.3" y="577.41" font-size="8.2" fill="#333333" text-anchor="end">40</text>
<line x1="441" y1="592.28" x2="444.2" y2="592.28" stroke="#2a2a2a" stroke-width="0.9"/>
<text x="438.3" y="595.13" font-size="8.2" fill="#333333" text-anchor="end">20</text>
<line x1="441" y1="610" x2="444.2" y2="610" stroke="#2a2a2a" stroke-width="0.9"/>
<text x="438.3" y="612.85" font-size="8.2" fill="#333333" text-anchor="end">0</text>
<line x1="443.75" y1="610" x2="508.5" y2="610" stroke="#2a2a2a" stroke-width="0.9"/>
<line x1="453.8" y1="610" x2="453.8" y2="613" stroke="#2a2a2a" stroke-width="0.9"/>
<line x1="469.6" y1="610" x2="469.6" y2="613" stroke="#2a2a2a" stroke-width="0.9"/>
<line x1="485" y1="610" x2="485" y2="613" stroke="#2a2a2a" stroke-width="0.9"/>
<line x1="500.5" y1="610" x2="500.5" y2="613" stroke="#2a2a2a" stroke-width="0.9"/>
<text transform="translate(424 566) rotate(-90)" font-size="9.4" fill="#333333" text-anchor="middle" textLength="66.5" lengthAdjust="spacingAndGlyphs">% BrdU incorporation</text>
<circle cx="450.8" cy="597.2" r="1.7" fill="#c8102e"/>
<circle cx="453.5" cy="595.3" r="1.7" fill="#c8102e"/>
<circle cx="455.5" cy="593.8" r="1.7" fill="#c8102e"/>
<circle cx="458" cy="592.3" r="1.7" fill="#c8102e"/>
<circle cx="458" cy="596" r="1.7" fill="#c8102e"/>
<line x1="449.5" y1="596" x2="458.5" y2="596" stroke="#c8102e" stroke-width="0.8"/>
<circle cx="466.3" cy="598" r="1.65" fill="none" stroke="#e2697d" stroke-width="0.9"/>
<circle cx="473" cy="597.3" r="1.65" fill="none" stroke="#e2697d" stroke-width="0.9"/>
<circle cx="466.3" cy="603.2" r="1.65" fill="none" stroke="#e2697d" stroke-width="0.9"/>
<circle cx="473" cy="602.5" r="1.65" fill="none" stroke="#e2697d" stroke-width="0.9"/>
<circle cx="469.6" cy="600.3" r="1.65" fill="none" stroke="#e2697d" stroke-width="0.9"/>
<line x1="465" y1="600.3" x2="474.5" y2="600.3" stroke="#e2697d" stroke-width="0.8"/>
<rect x="479.6" y="587.3" width="3.4" height="3.4" fill="#0b4684"/>
<rect x="487.1" y="585.5" width="3.4" height="3.4" fill="#0b4684"/>
<rect x="487.1" y="590" width="3.4" height="3.4" fill="#0b4684"/>
<rect x="483" y="598.6" width="3.4" height="3.4" fill="#0b4684"/>
<line x1="480" y1="591.2" x2="490" y2="591.2" stroke="#0b4f8a" stroke-width="0.9"/>
<line x1="485" y1="589" x2="485" y2="594.3" stroke="#0b4f8a" stroke-width="0.9"/>
<line x1="482.2" y1="589" x2="487.8" y2="589" stroke="#0b4f8a" stroke-width="0.9"/>
<line x1="482.2" y1="594.3" x2="487.8" y2="594.3" stroke="#0b4f8a" stroke-width="0.9"/>
<rect x="498.75" y="537.45" width="3.5" height="3.5" fill="none" stroke="#86c98a" stroke-width="0.9"/>
<rect x="494.95" y="591.05" width="3.5" height="3.5" fill="none" stroke="#86c98a" stroke-width="0.9"/>
<rect x="498.75" y="589.55" width="3.5" height="3.5" fill="none" stroke="#86c98a" stroke-width="0.9"/>
<rect x="502.45" y="590.55" width="3.5" height="3.5" fill="none" stroke="#86c98a" stroke-width="0.9"/>
<line x1="495.5" y1="579" x2="505.5" y2="579" stroke="#86c98a" stroke-width="0.9"/>
<line x1="500.5" y1="565.8" x2="500.5" y2="592" stroke="#86c98a" stroke-width="0.9"/>
<line x1="497.7" y1="565.8" x2="503.3" y2="565.8" stroke="#86c98a" stroke-width="0.9"/>
<line x1="497.7" y1="592" x2="503.3" y2="592" stroke="#86c98a" stroke-width="0.9"/>
<path d="M453.8 580.8V574.8H469.6V589" stroke="#444" stroke-width="0.9" fill="none"/>
<path d="M484.6 567.3V527.8H500.5V533.2" stroke="#444" stroke-width="0.9" fill="none"/>
<text x="492.8" y="523.4" font-size="8.5" fill="#333333" text-anchor="middle">ns</text>
<text transform="translate(455.8 618.4) rotate(-45)" font-size="7.35" fill="#333333" text-anchor="end" class="xl">Control - vehicle</text>
<text transform="translate(471.6 618.4) rotate(-45)" font-size="7.35" fill="#333333" text-anchor="end" class="xl">Control - JQ-1</text>
<text transform="translate(487 618.4) rotate(-45)" font-size="7.35" fill="#333333" text-anchor="end" class="xl">MCT4-OE - vehicle</text>
<text transform="translate(502.5 618.4) rotate(-45)" font-size="7.35" fill="#333333" text-anchor="end" class="xl">MCT4-OE - JQ-1</text>
<rect x="0.5" y="0.5" width="519" height="673" fill="none" stroke="#111" stroke-width="1.2"/>
</svg>
</body></html>
